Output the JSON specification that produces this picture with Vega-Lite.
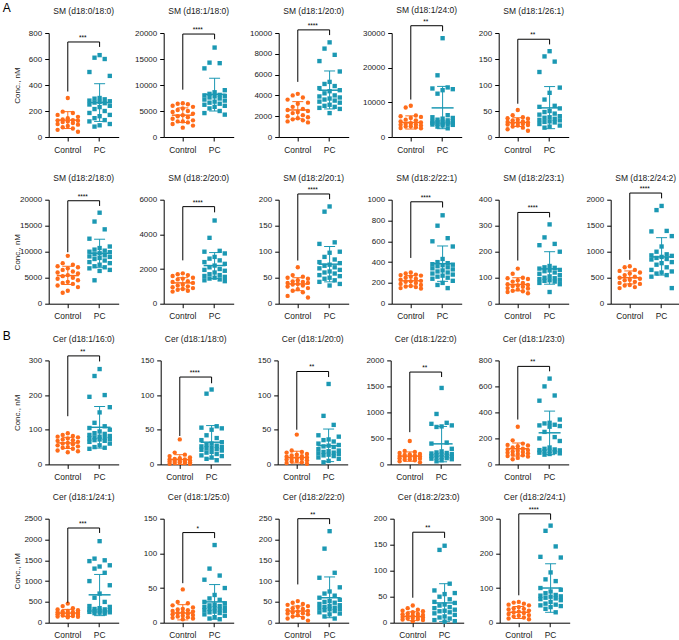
{
"$schema":"https://vega.github.io/schema/vega-lite/v6.json",
"background":"white",
"padding":{"left":1.7,"top":1,"right":0,"bottom":0},
"config":{
"font":"Liberation Sans",
"view":{"stroke":null},
"range":{"category":["#FF6C1A","#1B98B3"]},
"scale":{"bandPaddingInner":0.267,"bandPaddingOuter":0.3},
"axis":{"domainColor":"#000","tickColor":"#000","labelColor":"#1a1a1a","labelFontSize":8,"tickSize":4,"labelPadding":3,"grid":false,"titleFontSize":8,"titleFontWeight":"normal","titleColor":"#1a1a1a","titlePadding":1,"domainWidth":1,"tickWidth":1},
"axisX":{"labelAngle":0,"labelFontSize":8.4,"labelPadding":4},
"axisY":{"labelOverlap":false},
"title":{"fontSize":8.5,"fontWeight":"normal","color":"#1a1a1a","offset":0,"baseline":"bottom","frame":"group","anchor":"middle"},
"point":{"filled":true,"opacity":1,"size":19},
"tick":{"opacity":1,"thickness":1},
"rule":{"strokeWidth":1},
"style":{"bk":{"stroke":"#555","strokeWidth":0.8},"sr":{"dx":15,"dy":-1,"baseline":"bottom","fontSize":6.5,"fill":"#333"}}
},
"datasets":{
"st":[
{"p":1,"g":"Control","m":130,"lo":65,"hi":195},{"p":1,"g":"PC","m":265,"lo":120,"hi":410},
{"p":2,"g":"Control","m":4200,"lo":2800,"hi":5600},{"p":2,"g":"PC","m":8200,"lo":5000,"hi":11300},
{"p":3,"g":"Control","m":2600,"lo":1750,"hi":3400},{"p":3,"g":"PC","m":4500,"lo":2700,"hi":6350},
{"p":4,"g":"Control","m":4200,"lo":2300,"hi":6100},{"p":4,"g":"PC","m":8400,"lo":2400,"hi":14600},
{"p":5,"g":"Control","m":28,"lo":20,"hi":37},{"p":5,"g":"PC","m":56,"lo":16,"hi":97},
{"p":6,"g":"Control","m":5400,"lo":3700,"hi":7200},{"p":6,"g":"PC","m":9700,"lo":7000,"hi":12400},
{"p":7,"g":"Control","m":1200,"lo":850,"hi":1500},{"p":7,"g":"PC","m":2200,"lo":1450,"hi":2950},
{"p":8,"g":"Control","m":38,"lo":25,"hi":50},{"p":8,"g":"PC","m":76,"lo":42,"hi":110},
{"p":9,"g":"Control","m":220,"lo":170,"hi":270},{"p":9,"g":"PC","m":385,"lo":215,"hi":555},
{"p":10,"g":"Control","m":74,"lo":50,"hi":100},{"p":10,"g":"PC","m":134,"lo":75,"hi":200},
{"p":11,"g":"Control","m":500,"lo":380,"hi":630},{"p":11,"g":"PC","m":900,"lo":550,"hi":1270},
{"p":12,"g":"Control","m":62,"lo":46,"hi":78},{"p":12,"g":"PC","m":107,"lo":47,"hi":167},
{"p":13,"g":"Control","m":7,"lo":0,"hi":14},{"p":13,"g":"PC","m":32,"lo":8,"hi":56},
{"p":14,"g":"Control","m":10,"lo":2,"hi":19},{"p":14,"g":"PC","m":27,"lo":4,"hi":51},
{"p":15,"g":"Control","m":160,"lo":60,"hi":240},{"p":15,"g":"PC","m":395,"lo":50,"hi":730},
{"p":16,"g":"Control","m":120,"lo":65,"hi":165},{"p":16,"g":"PC","m":243,"lo":75,"hi":410},
{"p":17,"g":"Control","m":232,"lo":150,"hi":320},{"p":17,"g":"PC","m":670,"lo":170,"hi":1160},
{"p":18,"g":"Control","m":14,"lo":4,"hi":26},{"p":18,"g":"PC","m":30,"lo":5,"hi":55},
{"p":19,"g":"Control","m":28,"lo":15,"hi":40},{"p":19,"g":"PC","m":60,"lo":12,"hi":110},
{"p":20,"g":"Control","m":12,"lo":4,"hi":21},{"p":20,"g":"PC","m":38,"lo":2,"hi":75},
{"p":21,"g":"Control","m":30,"lo":12,"hi":47},{"p":21,"g":"PC","m":100,"lo":30,"hi":170}
],
"br":[
{"p":1,"t":731,"l":350,"r":693,"s":"***","d":800},
{"p":2,"t":19800,"l":9100,"r":18800,"s":"****","d":20000},
{"p":3,"t":10300,"l":5300,"r":9800,"s":"****","d":10000},
{"p":4,"t":32100,"l":10800,"r":30500,"s":"**","d":30000},
{"p":5,"t":188,"l":64,"r":178,"s":"**","d":200},
{"p":6,"t":19800,"l":9900,"r":18800,"s":"****","d":20000},
{"p":7,"t":5600,"l":2500,"r":5270,"s":"****","d":6000},
{"p":8,"t":211,"l":83,"r":201,"s":"****","d":200},
{"p":9,"t":980,"l":440,"r":925,"s":"****","d":1000},
{"p":10,"t":351,"l":166,"r":332,"s":"****","d":400},
{"p":11,"t":2128,"l":843,"r":2026,"s":"****","d":2000},
{"p":12,"t":313,"l":139,"r":297,"s":"**","d":300},
{"p":13,"t":126,"l":41,"r":117,"s":"****","d":150},
{"p":14,"t":134,"l":50,"r":126,"s":"**","d":150},
{"p":15,"t":1776,"l":620,"r":1680,"s":"**","d":2000},
{"p":16,"t":754,"l":345,"r":716,"s":"**","d":800},
{"p":17,"t":2276,"l":479,"r":2157,"s":"***","d":2500},
{"p":18,"t":130,"l":57,"r":122,"s":"*","d":150},
{"p":19,"t":250,"l":92,"r":237,"s":"**","d":250},
{"p":20,"t":174,"l":48,"r":163,"s":"**","d":200},
{"p":21,"t":314,"l":79,"r":297,"s":"****","d":300}
],
"pts":[
{"p":1,"g":"Control","v":300},{"p":1,"g":"Control","v":195},{"p":1,"g":"Control","v":185},{"p":1,"g":"Control","v":170},{"p":1,"g":"Control","v":155},{"p":1,"g":"Control","v":145},{"p":1,"g":"Control","v":135},{"p":1,"g":"Control","v":130},{"p":1,"g":"Control","v":128},{"p":1,"g":"Control","v":125},{"p":1,"g":"Control","v":120},{"p":1,"g":"Control","v":115},{"p":1,"g":"Control","v":108},{"p":1,"g":"Control","v":100},{"p":1,"g":"Control","v":95},{"p":1,"g":"Control","v":85},{"p":1,"g":"Control","v":75},{"p":1,"g":"Control","v":65},{"p":1,"g":"Control","v":55},{"p":1,"g":"Control","v":40},
{"p":1,"g":"PC","v":630},{"p":1,"g":"PC","v":610},{"p":1,"g":"PC","v":600},{"p":1,"g":"PC","v":500},{"p":1,"g":"PC","v":470},{"p":1,"g":"PC","v":300},{"p":1,"g":"PC","v":295},{"p":1,"g":"PC","v":290},{"p":1,"g":"PC","v":280},{"p":1,"g":"PC","v":275},{"p":1,"g":"PC","v":270},{"p":1,"g":"PC","v":265},{"p":1,"g":"PC","v":260},{"p":1,"g":"PC","v":250},{"p":1,"g":"PC","v":240},{"p":1,"g":"PC","v":230},{"p":1,"g":"PC","v":215},{"p":1,"g":"PC","v":200},{"p":1,"g":"PC","v":185},{"p":1,"g":"PC","v":170},{"p":1,"g":"PC","v":160},{"p":1,"g":"PC","v":145},{"p":1,"g":"PC","v":130},{"p":1,"g":"PC","v":120},{"p":1,"g":"PC","v":100},{"p":1,"g":"PC","v":90},{"p":1,"g":"PC","v":80},
{"p":2,"g":"Control","v":6500},{"p":2,"g":"Control","v":6400},{"p":2,"g":"Control","v":6300},{"p":2,"g":"Control","v":6000},{"p":2,"g":"Control","v":5800},{"p":2,"g":"Control","v":5500},{"p":2,"g":"Control","v":5200},{"p":2,"g":"Control","v":5000},{"p":2,"g":"Control","v":4800},{"p":2,"g":"Control","v":4500},{"p":2,"g":"Control","v":4200},{"p":2,"g":"Control","v":4000},{"p":2,"g":"Control","v":3800},{"p":2,"g":"Control","v":3500},{"p":2,"g":"Control","v":3200},{"p":2,"g":"Control","v":3000},{"p":2,"g":"Control","v":3000},{"p":2,"g":"Control","v":2800},{"p":2,"g":"Control","v":2500},{"p":2,"g":"Control","v":2200},{"p":2,"g":"Control","v":1800},
{"p":2,"g":"PC","v":17200},{"p":2,"g":"PC","v":14300},{"p":2,"g":"PC","v":14200},{"p":2,"g":"PC","v":13200},{"p":2,"g":"PC","v":9000},{"p":2,"g":"PC","v":8600},{"p":2,"g":"PC","v":8300},{"p":2,"g":"PC","v":8100},{"p":2,"g":"PC","v":8000},{"p":2,"g":"PC","v":7900},{"p":2,"g":"PC","v":7800},{"p":2,"g":"PC","v":7600},{"p":2,"g":"PC","v":7400},{"p":2,"g":"PC","v":7200},{"p":2,"g":"PC","v":7000},{"p":2,"g":"PC","v":6800},{"p":2,"g":"PC","v":6600},{"p":2,"g":"PC","v":6400},{"p":2,"g":"PC","v":6200},{"p":2,"g":"PC","v":6000},{"p":2,"g":"PC","v":5800},{"p":2,"g":"PC","v":5500},{"p":2,"g":"PC","v":5000},{"p":2,"g":"PC","v":4600},{"p":2,"g":"PC","v":4300},
{"p":3,"g":"Control","v":4150},{"p":3,"g":"Control","v":4000},{"p":3,"g":"Control","v":3800},{"p":3,"g":"Control","v":3600},{"p":3,"g":"Control","v":3300},{"p":3,"g":"Control","v":3200},{"p":3,"g":"Control","v":2900},{"p":3,"g":"Control","v":2700},{"p":3,"g":"Control","v":2600},{"p":3,"g":"Control","v":2500},{"p":3,"g":"Control","v":2400},{"p":3,"g":"Control","v":2300},{"p":3,"g":"Control","v":2100},{"p":3,"g":"Control","v":2000},{"p":3,"g":"Control","v":1900},{"p":3,"g":"Control","v":1800},{"p":3,"g":"Control","v":1700},{"p":3,"g":"Control","v":1600},{"p":3,"g":"Control","v":1500},{"p":3,"g":"Control","v":1400},
{"p":3,"g":"PC","v":9100},{"p":3,"g":"PC","v":8500},{"p":3,"g":"PC","v":7900},{"p":3,"g":"PC","v":7300},{"p":3,"g":"PC","v":6300},{"p":3,"g":"PC","v":5300},{"p":3,"g":"PC","v":5100},{"p":3,"g":"PC","v":4900},{"p":3,"g":"PC","v":4700},{"p":3,"g":"PC","v":4500},{"p":3,"g":"PC","v":4400},{"p":3,"g":"PC","v":4200},{"p":3,"g":"PC","v":4000},{"p":3,"g":"PC","v":3900},{"p":3,"g":"PC","v":3800},{"p":3,"g":"PC","v":3700},{"p":3,"g":"PC","v":3600},{"p":3,"g":"PC","v":3500},{"p":3,"g":"PC","v":3400},{"p":3,"g":"PC","v":3300},{"p":3,"g":"PC","v":3100},{"p":3,"g":"PC","v":3000},{"p":3,"g":"PC","v":2900},{"p":3,"g":"PC","v":2800},{"p":3,"g":"PC","v":2700},{"p":3,"g":"PC","v":2300},
{"p":4,"g":"Control","v":9000},{"p":4,"g":"Control","v":8500},{"p":4,"g":"Control","v":6200},{"p":4,"g":"Control","v":6000},{"p":4,"g":"Control","v":5800},{"p":4,"g":"Control","v":5500},{"p":4,"g":"Control","v":5000},{"p":4,"g":"Control","v":4800},{"p":4,"g":"Control","v":4500},{"p":4,"g":"Control","v":4200},{"p":4,"g":"Control","v":4000},{"p":4,"g":"Control","v":3800},{"p":4,"g":"Control","v":3600},{"p":4,"g":"Control","v":3500},{"p":4,"g":"Control","v":3300},{"p":4,"g":"Control","v":3100},{"p":4,"g":"Control","v":3000},{"p":4,"g":"Control","v":2800},{"p":4,"g":"Control","v":2600},{"p":4,"g":"Control","v":2500},
{"p":4,"g":"PC","v":28500},{"p":4,"g":"PC","v":17800},{"p":4,"g":"PC","v":14300},{"p":4,"g":"PC","v":14000},{"p":4,"g":"PC","v":13800},{"p":4,"g":"PC","v":13500},{"p":4,"g":"PC","v":12500},{"p":4,"g":"PC","v":6300},{"p":4,"g":"PC","v":5700},{"p":4,"g":"PC","v":5500},{"p":4,"g":"PC","v":5300},{"p":4,"g":"PC","v":5000},{"p":4,"g":"PC","v":4800},{"p":4,"g":"PC","v":4600},{"p":4,"g":"PC","v":4500},{"p":4,"g":"PC","v":4400},{"p":4,"g":"PC","v":4300},{"p":4,"g":"PC","v":4200},{"p":4,"g":"PC","v":4100},{"p":4,"g":"PC","v":4000},{"p":4,"g":"PC","v":3900},{"p":4,"g":"PC","v":3800},{"p":4,"g":"PC","v":3700},{"p":4,"g":"PC","v":3600},{"p":4,"g":"PC","v":3500},{"p":4,"g":"PC","v":3300},{"p":4,"g":"PC","v":3000},{"p":4,"g":"PC","v":2500},
{"p":5,"g":"Control","v":52},{"p":5,"g":"Control","v":42},{"p":5,"g":"Control","v":38},{"p":5,"g":"Control","v":36},{"p":5,"g":"Control","v":35},{"p":5,"g":"Control","v":33},{"p":5,"g":"Control","v":32},{"p":5,"g":"Control","v":30},{"p":5,"g":"Control","v":29},{"p":5,"g":"Control","v":28},{"p":5,"g":"Control","v":27},{"p":5,"g":"Control","v":26},{"p":5,"g":"Control","v":25},{"p":5,"g":"Control","v":24},{"p":5,"g":"Control","v":23},{"p":5,"g":"Control","v":22},{"p":5,"g":"Control","v":20},{"p":5,"g":"Control","v":18},{"p":5,"g":"Control","v":15},{"p":5,"g":"Control","v":12},
{"p":5,"g":"PC","v":165},{"p":5,"g":"PC","v":155},{"p":5,"g":"PC","v":145},{"p":5,"g":"PC","v":125},{"p":5,"g":"PC","v":95},{"p":5,"g":"PC","v":85},{"p":5,"g":"PC","v":72},{"p":5,"g":"PC","v":60},{"p":5,"g":"PC","v":58},{"p":5,"g":"PC","v":55},{"p":5,"g":"PC","v":50},{"p":5,"g":"PC","v":48},{"p":5,"g":"PC","v":45},{"p":5,"g":"PC","v":43},{"p":5,"g":"PC","v":40},{"p":5,"g":"PC","v":38},{"p":5,"g":"PC","v":37},{"p":5,"g":"PC","v":35},{"p":5,"g":"PC","v":33},{"p":5,"g":"PC","v":32},{"p":5,"g":"PC","v":30},{"p":5,"g":"PC","v":29},{"p":5,"g":"PC","v":28},{"p":5,"g":"PC","v":25},{"p":5,"g":"PC","v":22},{"p":5,"g":"PC","v":20},{"p":5,"g":"PC","v":18},
{"p":6,"g":"Control","v":9200},{"p":6,"g":"Control","v":7800},{"p":6,"g":"Control","v":7500},{"p":6,"g":"Control","v":7200},{"p":6,"g":"Control","v":7000},{"p":6,"g":"Control","v":6800},{"p":6,"g":"Control","v":6500},{"p":6,"g":"Control","v":6200},{"p":6,"g":"Control","v":6000},{"p":6,"g":"Control","v":5800},{"p":6,"g":"Control","v":5500},{"p":6,"g":"Control","v":5300},{"p":6,"g":"Control","v":5000},{"p":6,"g":"Control","v":4800},{"p":6,"g":"Control","v":4500},{"p":6,"g":"Control","v":4200},{"p":6,"g":"Control","v":4000},{"p":6,"g":"Control","v":3800},{"p":6,"g":"Control","v":3500},{"p":6,"g":"Control","v":3200},{"p":6,"g":"Control","v":2500},{"p":6,"g":"Control","v":2100},
{"p":6,"g":"PC","v":17500},{"p":6,"g":"PC","v":15800},{"p":6,"g":"PC","v":14300},{"p":6,"g":"PC","v":12500},{"p":6,"g":"PC","v":11000},{"p":6,"g":"PC","v":10700},{"p":6,"g":"PC","v":10400},{"p":6,"g":"PC","v":10200},{"p":6,"g":"PC","v":10000},{"p":6,"g":"PC","v":9900},{"p":6,"g":"PC","v":9700},{"p":6,"g":"PC","v":9500},{"p":6,"g":"PC","v":9300},{"p":6,"g":"PC","v":9100},{"p":6,"g":"PC","v":9000},{"p":6,"g":"PC","v":8800},{"p":6,"g":"PC","v":8600},{"p":6,"g":"PC","v":8300},{"p":6,"g":"PC","v":8000},{"p":6,"g":"PC","v":7800},{"p":6,"g":"PC","v":7500},{"p":6,"g":"PC","v":7200},{"p":6,"g":"PC","v":7000},{"p":6,"g":"PC","v":6800},{"p":6,"g":"PC","v":6500},{"p":6,"g":"PC","v":6300},{"p":6,"g":"PC","v":4500},
{"p":7,"g":"Control","v":1750},{"p":7,"g":"Control","v":1700},{"p":7,"g":"Control","v":1650},{"p":7,"g":"Control","v":1600},{"p":7,"g":"Control","v":1500},{"p":7,"g":"Control","v":1450},{"p":7,"g":"Control","v":1400},{"p":7,"g":"Control","v":1300},{"p":7,"g":"Control","v":1250},{"p":7,"g":"Control","v":1200},{"p":7,"g":"Control","v":1100},{"p":7,"g":"Control","v":1050},{"p":7,"g":"Control","v":1000},{"p":7,"g":"Control","v":950},{"p":7,"g":"Control","v":900},{"p":7,"g":"Control","v":850},{"p":7,"g":"Control","v":800},{"p":7,"g":"Control","v":750},{"p":7,"g":"Control","v":700},
{"p":7,"g":"PC","v":4800},{"p":7,"g":"PC","v":3800},{"p":7,"g":"PC","v":3050},{"p":7,"g":"PC","v":3000},{"p":7,"g":"PC","v":2900},{"p":7,"g":"PC","v":2700},{"p":7,"g":"PC","v":2600},{"p":7,"g":"PC","v":2500},{"p":7,"g":"PC","v":2400},{"p":7,"g":"PC","v":2300},{"p":7,"g":"PC","v":2200},{"p":7,"g":"PC","v":2100},{"p":7,"g":"PC","v":2000},{"p":7,"g":"PC","v":1950},{"p":7,"g":"PC","v":1900},{"p":7,"g":"PC","v":1800},{"p":7,"g":"PC","v":1700},{"p":7,"g":"PC","v":1650},{"p":7,"g":"PC","v":1600},{"p":7,"g":"PC","v":1550},{"p":7,"g":"PC","v":1500},{"p":7,"g":"PC","v":1450},{"p":7,"g":"PC","v":1400},{"p":7,"g":"PC","v":1350},{"p":7,"g":"PC","v":1300},
{"p":8,"g":"Control","v":70},{"p":8,"g":"Control","v":55},{"p":8,"g":"Control","v":52},{"p":8,"g":"Control","v":50},{"p":8,"g":"Control","v":48},{"p":8,"g":"Control","v":45},{"p":8,"g":"Control","v":43},{"p":8,"g":"Control","v":42},{"p":8,"g":"Control","v":40},{"p":8,"g":"Control","v":40},{"p":8,"g":"Control","v":38},{"p":8,"g":"Control","v":37},{"p":8,"g":"Control","v":35},{"p":8,"g":"Control","v":33},{"p":8,"g":"Control","v":30},{"p":8,"g":"Control","v":28},{"p":8,"g":"Control","v":25},{"p":8,"g":"Control","v":22},{"p":8,"g":"Control","v":15},{"p":8,"g":"Control","v":12},
{"p":8,"g":"PC","v":187},{"p":8,"g":"PC","v":177},{"p":8,"g":"PC","v":118},{"p":8,"g":"PC","v":115},{"p":8,"g":"PC","v":100},{"p":8,"g":"PC","v":98},{"p":8,"g":"PC","v":90},{"p":8,"g":"PC","v":85},{"p":8,"g":"PC","v":80},{"p":8,"g":"PC","v":78},{"p":8,"g":"PC","v":75},{"p":8,"g":"PC","v":73},{"p":8,"g":"PC","v":70},{"p":8,"g":"PC","v":68},{"p":8,"g":"PC","v":65},{"p":8,"g":"PC","v":62},{"p":8,"g":"PC","v":60},{"p":8,"g":"PC","v":58},{"p":8,"g":"PC","v":55},{"p":8,"g":"PC","v":53},{"p":8,"g":"PC","v":50},{"p":8,"g":"PC","v":48},{"p":8,"g":"PC","v":45},{"p":8,"g":"PC","v":42},{"p":8,"g":"PC","v":38},{"p":8,"g":"PC","v":35},
{"p":9,"g":"Control","v":300},{"p":9,"g":"Control","v":290},{"p":9,"g":"Control","v":280},{"p":9,"g":"Control","v":275},{"p":9,"g":"Control","v":270},{"p":9,"g":"Control","v":260},{"p":9,"g":"Control","v":250},{"p":9,"g":"Control","v":240},{"p":9,"g":"Control","v":230},{"p":9,"g":"Control","v":220},{"p":9,"g":"Control","v":215},{"p":9,"g":"Control","v":210},{"p":9,"g":"Control","v":200},{"p":9,"g":"Control","v":190},{"p":9,"g":"Control","v":180},{"p":9,"g":"Control","v":170},{"p":9,"g":"Control","v":165},{"p":9,"g":"Control","v":160},{"p":9,"g":"Control","v":150},{"p":9,"g":"Control","v":145},
{"p":9,"g":"PC","v":850},{"p":9,"g":"PC","v":750},{"p":9,"g":"PC","v":630},{"p":9,"g":"PC","v":600},{"p":9,"g":"PC","v":550},{"p":9,"g":"PC","v":430},{"p":9,"g":"PC","v":400},{"p":9,"g":"PC","v":390},{"p":9,"g":"PC","v":380},{"p":9,"g":"PC","v":375},{"p":9,"g":"PC","v":370},{"p":9,"g":"PC","v":360},{"p":9,"g":"PC","v":350},{"p":9,"g":"PC","v":340},{"p":9,"g":"PC","v":330},{"p":9,"g":"PC","v":320},{"p":9,"g":"PC","v":310},{"p":9,"g":"PC","v":300},{"p":9,"g":"PC","v":290},{"p":9,"g":"PC","v":280},{"p":9,"g":"PC","v":270},{"p":9,"g":"PC","v":260},{"p":9,"g":"PC","v":250},{"p":9,"g":"PC","v":240},{"p":9,"g":"PC","v":220},{"p":9,"g":"PC","v":200},{"p":9,"g":"PC","v":180},{"p":9,"g":"PC","v":150},
{"p":10,"g":"Control","v":135},{"p":10,"g":"Control","v":115},{"p":10,"g":"Control","v":100},{"p":10,"g":"Control","v":98},{"p":10,"g":"Control","v":95},{"p":10,"g":"Control","v":90},{"p":10,"g":"Control","v":85},{"p":10,"g":"Control","v":80},{"p":10,"g":"Control","v":75},{"p":10,"g":"Control","v":72},{"p":10,"g":"Control","v":70},{"p":10,"g":"Control","v":68},{"p":10,"g":"Control","v":65},{"p":10,"g":"Control","v":60},{"p":10,"g":"Control","v":58},{"p":10,"g":"Control","v":55},{"p":10,"g":"Control","v":50},{"p":10,"g":"Control","v":48},{"p":10,"g":"Control","v":45},{"p":10,"g":"Control","v":40},
{"p":10,"g":"PC","v":305},{"p":10,"g":"PC","v":255},{"p":10,"g":"PC","v":230},{"p":10,"g":"PC","v":225},{"p":10,"g":"PC","v":200},{"p":10,"g":"PC","v":145},{"p":10,"g":"PC","v":140},{"p":10,"g":"PC","v":138},{"p":10,"g":"PC","v":135},{"p":10,"g":"PC","v":130},{"p":10,"g":"PC","v":128},{"p":10,"g":"PC","v":125},{"p":10,"g":"PC","v":120},{"p":10,"g":"PC","v":115},{"p":10,"g":"PC","v":110},{"p":10,"g":"PC","v":105},{"p":10,"g":"PC","v":100},{"p":10,"g":"PC","v":98},{"p":10,"g":"PC","v":95},{"p":10,"g":"PC","v":92},{"p":10,"g":"PC","v":90},{"p":10,"g":"PC","v":88},{"p":10,"g":"PC","v":85},{"p":10,"g":"PC","v":80},{"p":10,"g":"PC","v":75},{"p":10,"g":"PC","v":45},
{"p":11,"g":"Control","v":720},{"p":11,"g":"Control","v":700},{"p":11,"g":"Control","v":650},{"p":11,"g":"Control","v":630},{"p":11,"g":"Control","v":600},{"p":11,"g":"Control","v":580},{"p":11,"g":"Control","v":550},{"p":11,"g":"Control","v":520},{"p":11,"g":"Control","v":500},{"p":11,"g":"Control","v":480},{"p":11,"g":"Control","v":460},{"p":11,"g":"Control","v":450},{"p":11,"g":"Control","v":420},{"p":11,"g":"Control","v":400},{"p":11,"g":"Control","v":380},{"p":11,"g":"Control","v":360},{"p":11,"g":"Control","v":350},{"p":11,"g":"Control","v":320},{"p":11,"g":"Control","v":300},
{"p":11,"g":"PC","v":1880},{"p":11,"g":"PC","v":1800},{"p":11,"g":"PC","v":1400},{"p":11,"g":"PC","v":1390},{"p":11,"g":"PC","v":1300},{"p":11,"g":"PC","v":1100},{"p":11,"g":"PC","v":1000},{"p":11,"g":"PC","v":950},{"p":11,"g":"PC","v":930},{"p":11,"g":"PC","v":920},{"p":11,"g":"PC","v":900},{"p":11,"g":"PC","v":880},{"p":11,"g":"PC","v":860},{"p":11,"g":"PC","v":850},{"p":11,"g":"PC","v":800},{"p":11,"g":"PC","v":780},{"p":11,"g":"PC","v":750},{"p":11,"g":"PC","v":700},{"p":11,"g":"PC","v":650},{"p":11,"g":"PC","v":620},{"p":11,"g":"PC","v":600},{"p":11,"g":"PC","v":580},{"p":11,"g":"PC","v":550},{"p":11,"g":"PC","v":520},{"p":11,"g":"PC","v":300},
{"p":12,"g":"Control","v":90},{"p":12,"g":"Control","v":85},{"p":12,"g":"Control","v":82},{"p":12,"g":"Control","v":80},{"p":12,"g":"Control","v":78},{"p":12,"g":"Control","v":75},{"p":12,"g":"Control","v":72},{"p":12,"g":"Control","v":70},{"p":12,"g":"Control","v":68},{"p":12,"g":"Control","v":65},{"p":12,"g":"Control","v":62},{"p":12,"g":"Control","v":60},{"p":12,"g":"Control","v":58},{"p":12,"g":"Control","v":55},{"p":12,"g":"Control","v":52},{"p":12,"g":"Control","v":50},{"p":12,"g":"Control","v":48},{"p":12,"g":"Control","v":45},{"p":12,"g":"Control","v":40},{"p":12,"g":"Control","v":38},{"p":12,"g":"Control","v":35},
{"p":12,"g":"PC","v":275},{"p":12,"g":"PC","v":255},{"p":12,"g":"PC","v":200},{"p":12,"g":"PC","v":195},{"p":12,"g":"PC","v":165},{"p":12,"g":"PC","v":150},{"p":12,"g":"PC","v":120},{"p":12,"g":"PC","v":110},{"p":12,"g":"PC","v":105},{"p":12,"g":"PC","v":100},{"p":12,"g":"PC","v":95},{"p":12,"g":"PC","v":90},{"p":12,"g":"PC","v":88},{"p":12,"g":"PC","v":85},{"p":12,"g":"PC","v":82},{"p":12,"g":"PC","v":80},{"p":12,"g":"PC","v":78},{"p":12,"g":"PC","v":76},{"p":12,"g":"PC","v":75},{"p":12,"g":"PC","v":73},{"p":12,"g":"PC","v":72},{"p":12,"g":"PC","v":70},{"p":12,"g":"PC","v":68},{"p":12,"g":"PC","v":65},{"p":12,"g":"PC","v":60},{"p":12,"g":"PC","v":55},{"p":12,"g":"PC","v":50},{"p":12,"g":"PC","v":48},{"p":12,"g":"PC","v":45},
{"p":13,"g":"Control","v":36},{"p":13,"g":"Control","v":17},{"p":13,"g":"Control","v":14},{"p":13,"g":"Control","v":12},{"p":13,"g":"Control","v":10},{"p":13,"g":"Control","v":9},{"p":13,"g":"Control","v":8},{"p":13,"g":"Control","v":7},{"p":13,"g":"Control","v":7},{"p":13,"g":"Control","v":6},{"p":13,"g":"Control","v":5},{"p":13,"g":"Control","v":5},{"p":13,"g":"Control","v":4},{"p":13,"g":"Control","v":4},{"p":13,"g":"Control","v":3},{"p":13,"g":"Control","v":3},{"p":13,"g":"Control","v":2},{"p":13,"g":"Control","v":2},{"p":13,"g":"Control","v":1},{"p":13,"g":"Control","v":1},
{"p":13,"g":"PC","v":108},{"p":13,"g":"PC","v":102},{"p":13,"g":"PC","v":55},{"p":13,"g":"PC","v":53},{"p":13,"g":"PC","v":52},{"p":13,"g":"PC","v":50},{"p":13,"g":"PC","v":42},{"p":13,"g":"PC","v":38},{"p":13,"g":"PC","v":35},{"p":13,"g":"PC","v":32},{"p":13,"g":"PC","v":30},{"p":13,"g":"PC","v":28},{"p":13,"g":"PC","v":27},{"p":13,"g":"PC","v":26},{"p":13,"g":"PC","v":25},{"p":13,"g":"PC","v":24},{"p":13,"g":"PC","v":23},{"p":13,"g":"PC","v":22},{"p":13,"g":"PC","v":21},{"p":13,"g":"PC","v":20},{"p":13,"g":"PC","v":18},{"p":13,"g":"PC","v":17},{"p":13,"g":"PC","v":15},{"p":13,"g":"PC","v":13},{"p":13,"g":"PC","v":12},{"p":13,"g":"PC","v":10},{"p":13,"g":"PC","v":8},{"p":13,"g":"PC","v":6},
{"p":14,"g":"Control","v":43},{"p":14,"g":"Control","v":20},{"p":14,"g":"Control","v":18},{"p":14,"g":"Control","v":17},{"p":14,"g":"Control","v":15},{"p":14,"g":"Control","v":14},{"p":14,"g":"Control","v":13},{"p":14,"g":"Control","v":12},{"p":14,"g":"Control","v":11},{"p":14,"g":"Control","v":10},{"p":14,"g":"Control","v":9},{"p":14,"g":"Control","v":8},{"p":14,"g":"Control","v":8},{"p":14,"g":"Control","v":7},{"p":14,"g":"Control","v":6},{"p":14,"g":"Control","v":5},{"p":14,"g":"Control","v":4},{"p":14,"g":"Control","v":3},{"p":14,"g":"Control","v":2},{"p":14,"g":"Control","v":1},
{"p":14,"g":"PC","v":116},{"p":14,"g":"PC","v":70},{"p":14,"g":"PC","v":57},{"p":14,"g":"PC","v":42},{"p":14,"g":"PC","v":40},{"p":14,"g":"PC","v":36},{"p":14,"g":"PC","v":35},{"p":14,"g":"PC","v":33},{"p":14,"g":"PC","v":30},{"p":14,"g":"PC","v":28},{"p":14,"g":"PC","v":27},{"p":14,"g":"PC","v":26},{"p":14,"g":"PC","v":25},{"p":14,"g":"PC","v":22},{"p":14,"g":"PC","v":20},{"p":14,"g":"PC","v":19},{"p":14,"g":"PC","v":18},{"p":14,"g":"PC","v":17},{"p":14,"g":"PC","v":16},{"p":14,"g":"PC","v":15},{"p":14,"g":"PC","v":14},{"p":14,"g":"PC","v":13},{"p":14,"g":"PC","v":12},{"p":14,"g":"PC","v":10},{"p":14,"g":"PC","v":8},{"p":14,"g":"PC","v":5},{"p":14,"g":"PC","v":3},
{"p":15,"g":"Control","v":450},{"p":15,"g":"Control","v":260},{"p":15,"g":"Control","v":240},{"p":15,"g":"Control","v":220},{"p":15,"g":"Control","v":200},{"p":15,"g":"Control","v":190},{"p":15,"g":"Control","v":180},{"p":15,"g":"Control","v":170},{"p":15,"g":"Control","v":160},{"p":15,"g":"Control","v":150},{"p":15,"g":"Control","v":145},{"p":15,"g":"Control","v":140},{"p":15,"g":"Control","v":130},{"p":15,"g":"Control","v":120},{"p":15,"g":"Control","v":110},{"p":15,"g":"Control","v":100},{"p":15,"g":"Control","v":90},{"p":15,"g":"Control","v":80},{"p":15,"g":"Control","v":60},{"p":15,"g":"Control","v":40},
{"p":15,"g":"PC","v":1470},{"p":15,"g":"PC","v":970},{"p":15,"g":"PC","v":800},{"p":15,"g":"PC","v":780},{"p":15,"g":"PC","v":750},{"p":15,"g":"PC","v":730},{"p":15,"g":"PC","v":720},{"p":15,"g":"PC","v":420},{"p":15,"g":"PC","v":400},{"p":15,"g":"PC","v":300},{"p":15,"g":"PC","v":250},{"p":15,"g":"PC","v":230},{"p":15,"g":"PC","v":220},{"p":15,"g":"PC","v":210},{"p":15,"g":"PC","v":200},{"p":15,"g":"PC","v":190},{"p":15,"g":"PC","v":180},{"p":15,"g":"PC","v":170},{"p":15,"g":"PC","v":160},{"p":15,"g":"PC","v":150},{"p":15,"g":"PC","v":140},{"p":15,"g":"PC","v":130},{"p":15,"g":"PC","v":120},{"p":15,"g":"PC","v":110},{"p":15,"g":"PC","v":100},{"p":15,"g":"PC","v":80},{"p":15,"g":"PC","v":60},
{"p":16,"g":"Control","v":290},{"p":16,"g":"Control","v":185},{"p":16,"g":"Control","v":160},{"p":16,"g":"Control","v":150},{"p":16,"g":"Control","v":145},{"p":16,"g":"Control","v":140},{"p":16,"g":"Control","v":130},{"p":16,"g":"Control","v":120},{"p":16,"g":"Control","v":115},{"p":16,"g":"Control","v":110},{"p":16,"g":"Control","v":105},{"p":16,"g":"Control","v":100},{"p":16,"g":"Control","v":95},{"p":16,"g":"Control","v":90},{"p":16,"g":"Control","v":85},{"p":16,"g":"Control","v":80},{"p":16,"g":"Control","v":75},{"p":16,"g":"Control","v":70},{"p":16,"g":"Control","v":65},{"p":16,"g":"Control","v":60},{"p":16,"g":"Control","v":50},{"p":16,"g":"Control","v":40},
{"p":16,"g":"PC","v":660},{"p":16,"g":"PC","v":600},{"p":16,"g":"PC","v":530},{"p":16,"g":"PC","v":490},{"p":16,"g":"PC","v":345},{"p":16,"g":"PC","v":320},{"p":16,"g":"PC","v":315},{"p":16,"g":"PC","v":305},{"p":16,"g":"PC","v":300},{"p":16,"g":"PC","v":295},{"p":16,"g":"PC","v":290},{"p":16,"g":"PC","v":250},{"p":16,"g":"PC","v":210},{"p":16,"g":"PC","v":200},{"p":16,"g":"PC","v":180},{"p":16,"g":"PC","v":130},{"p":16,"g":"PC","v":120},{"p":16,"g":"PC","v":115},{"p":16,"g":"PC","v":110},{"p":16,"g":"PC","v":108},{"p":16,"g":"PC","v":105},{"p":16,"g":"PC","v":100},{"p":16,"g":"PC","v":95},{"p":16,"g":"PC","v":90},{"p":16,"g":"PC","v":85},{"p":16,"g":"PC","v":80},{"p":16,"g":"PC","v":75},
{"p":17,"g":"Control","v":460},{"p":17,"g":"Control","v":400},{"p":17,"g":"Control","v":350},{"p":17,"g":"Control","v":320},{"p":17,"g":"Control","v":300},{"p":17,"g":"Control","v":280},{"p":17,"g":"Control","v":270},{"p":17,"g":"Control","v":260},{"p":17,"g":"Control","v":250},{"p":17,"g":"Control","v":240},{"p":17,"g":"Control","v":230},{"p":17,"g":"Control","v":220},{"p":17,"g":"Control","v":210},{"p":17,"g":"Control","v":200},{"p":17,"g":"Control","v":190},{"p":17,"g":"Control","v":180},{"p":17,"g":"Control","v":170},{"p":17,"g":"Control","v":160},{"p":17,"g":"Control","v":150},{"p":17,"g":"Control","v":140},{"p":17,"g":"Control","v":130},
{"p":17,"g":"PC","v":1960},{"p":17,"g":"PC","v":1540},{"p":17,"g":"PC","v":1500},{"p":17,"g":"PC","v":1480},{"p":17,"g":"PC","v":1380},{"p":17,"g":"PC","v":1350},{"p":17,"g":"PC","v":1300},{"p":17,"g":"PC","v":1200},{"p":17,"g":"PC","v":1000},{"p":17,"g":"PC","v":900},{"p":17,"g":"PC","v":700},{"p":17,"g":"PC","v":600},{"p":17,"g":"PC","v":500},{"p":17,"g":"PC","v":400},{"p":17,"g":"PC","v":380},{"p":17,"g":"PC","v":350},{"p":17,"g":"PC","v":330},{"p":17,"g":"PC","v":320},{"p":17,"g":"PC","v":310},{"p":17,"g":"PC","v":300},{"p":17,"g":"PC","v":290},{"p":17,"g":"PC","v":280},{"p":17,"g":"PC","v":270},{"p":17,"g":"PC","v":260},{"p":17,"g":"PC","v":250},{"p":17,"g":"PC","v":240},{"p":17,"g":"PC","v":230},{"p":17,"g":"PC","v":220},
{"p":18,"g":"Control","v":48},{"p":18,"g":"Control","v":30},{"p":18,"g":"Control","v":28},{"p":18,"g":"Control","v":25},{"p":18,"g":"Control","v":22},{"p":18,"g":"Control","v":20},{"p":18,"g":"Control","v":19},{"p":18,"g":"Control","v":18},{"p":18,"g":"Control","v":17},{"p":18,"g":"Control","v":16},{"p":18,"g":"Control","v":15},{"p":18,"g":"Control","v":14},{"p":18,"g":"Control","v":13},{"p":18,"g":"Control","v":12},{"p":18,"g":"Control","v":11},{"p":18,"g":"Control","v":10},{"p":18,"g":"Control","v":9},{"p":18,"g":"Control","v":8},{"p":18,"g":"Control","v":7},{"p":18,"g":"Control","v":6},{"p":18,"g":"Control","v":5},
{"p":18,"g":"PC","v":112},{"p":18,"g":"PC","v":78},{"p":18,"g":"PC","v":68},{"p":18,"g":"PC","v":62},{"p":18,"g":"PC","v":50},{"p":18,"g":"PC","v":40},{"p":18,"g":"PC","v":35},{"p":18,"g":"PC","v":33},{"p":18,"g":"PC","v":30},{"p":18,"g":"PC","v":28},{"p":18,"g":"PC","v":26},{"p":18,"g":"PC","v":25},{"p":18,"g":"PC","v":24},{"p":18,"g":"PC","v":23},{"p":18,"g":"PC","v":22},{"p":18,"g":"PC","v":21},{"p":18,"g":"PC","v":20},{"p":18,"g":"PC","v":19},{"p":18,"g":"PC","v":18},{"p":18,"g":"PC","v":17},{"p":18,"g":"PC","v":16},{"p":18,"g":"PC","v":15},{"p":18,"g":"PC","v":14},{"p":18,"g":"PC","v":12},{"p":18,"g":"PC","v":10},{"p":18,"g":"PC","v":8},{"p":18,"g":"PC","v":6},{"p":18,"g":"PC","v":5},
{"p":19,"g":"Control","v":52},{"p":19,"g":"Control","v":48},{"p":19,"g":"Control","v":45},{"p":19,"g":"Control","v":43},{"p":19,"g":"Control","v":40},{"p":19,"g":"Control","v":38},{"p":19,"g":"Control","v":35},{"p":19,"g":"Control","v":33},{"p":19,"g":"Control","v":30},{"p":19,"g":"Control","v":28},{"p":19,"g":"Control","v":27},{"p":19,"g":"Control","v":25},{"p":19,"g":"Control","v":23},{"p":19,"g":"Control","v":22},{"p":19,"g":"Control","v":20},{"p":19,"g":"Control","v":18},{"p":19,"g":"Control","v":15},{"p":19,"g":"Control","v":12},{"p":19,"g":"Control","v":10},{"p":19,"g":"Control","v":5},
{"p":19,"g":"PC","v":220},{"p":19,"g":"PC","v":178},{"p":19,"g":"PC","v":120},{"p":19,"g":"PC","v":108},{"p":19,"g":"PC","v":85},{"p":19,"g":"PC","v":75},{"p":19,"g":"PC","v":70},{"p":19,"g":"PC","v":65},{"p":19,"g":"PC","v":60},{"p":19,"g":"PC","v":55},{"p":19,"g":"PC","v":52},{"p":19,"g":"PC","v":50},{"p":19,"g":"PC","v":48},{"p":19,"g":"PC","v":45},{"p":19,"g":"PC","v":42},{"p":19,"g":"PC","v":40},{"p":19,"g":"PC","v":38},{"p":19,"g":"PC","v":36},{"p":19,"g":"PC","v":35},{"p":19,"g":"PC","v":33},{"p":19,"g":"PC","v":32},{"p":19,"g":"PC","v":30},{"p":19,"g":"PC","v":28},{"p":19,"g":"PC","v":25},{"p":19,"g":"PC","v":22},{"p":19,"g":"PC","v":20},{"p":19,"g":"PC","v":15},{"p":19,"g":"PC","v":10},
{"p":20,"g":"Control","v":33},{"p":20,"g":"Control","v":28},{"p":20,"g":"Control","v":25},{"p":20,"g":"Control","v":23},{"p":20,"g":"Control","v":22},{"p":20,"g":"Control","v":20},{"p":20,"g":"Control","v":18},{"p":20,"g":"Control","v":17},{"p":20,"g":"Control","v":16},{"p":20,"g":"Control","v":15},{"p":20,"g":"Control","v":14},{"p":20,"g":"Control","v":13},{"p":20,"g":"Control","v":12},{"p":20,"g":"Control","v":11},{"p":20,"g":"Control","v":10},{"p":20,"g":"Control","v":9},{"p":20,"g":"Control","v":8},{"p":20,"g":"Control","v":7},{"p":20,"g":"Control","v":6},{"p":20,"g":"Control","v":5},{"p":20,"g":"Control","v":3},
{"p":20,"g":"PC","v":148},{"p":20,"g":"PC","v":140},{"p":20,"g":"PC","v":75},{"p":20,"g":"PC","v":62},{"p":20,"g":"PC","v":57},{"p":20,"g":"PC","v":55},{"p":20,"g":"PC","v":50},{"p":20,"g":"PC","v":45},{"p":20,"g":"PC","v":40},{"p":20,"g":"PC","v":38},{"p":20,"g":"PC","v":35},{"p":20,"g":"PC","v":33},{"p":20,"g":"PC","v":30},{"p":20,"g":"PC","v":28},{"p":20,"g":"PC","v":25},{"p":20,"g":"PC","v":23},{"p":20,"g":"PC","v":22},{"p":20,"g":"PC","v":20},{"p":20,"g":"PC","v":18},{"p":20,"g":"PC","v":15},{"p":20,"g":"PC","v":12},{"p":20,"g":"PC","v":10},{"p":20,"g":"PC","v":8},{"p":20,"g":"PC","v":5},{"p":20,"g":"PC","v":3},{"p":20,"g":"PC","v":2},
{"p":21,"g":"Control","v":60},{"p":21,"g":"Control","v":58},{"p":21,"g":"Control","v":55},{"p":21,"g":"Control","v":52},{"p":21,"g":"Control","v":50},{"p":21,"g":"Control","v":45},{"p":21,"g":"Control","v":42},{"p":21,"g":"Control","v":40},{"p":21,"g":"Control","v":38},{"p":21,"g":"Control","v":35},{"p":21,"g":"Control","v":32},{"p":21,"g":"Control","v":30},{"p":21,"g":"Control","v":28},{"p":21,"g":"Control","v":25},{"p":21,"g":"Control","v":22},{"p":21,"g":"Control","v":20},{"p":21,"g":"Control","v":18},{"p":21,"g":"Control","v":15},{"p":21,"g":"Control","v":12},{"p":21,"g":"Control","v":10},
{"p":21,"g":"PC","v":280},{"p":21,"g":"PC","v":265},{"p":21,"g":"PC","v":220},{"p":21,"g":"PC","v":190},{"p":21,"g":"PC","v":188},{"p":21,"g":"PC","v":145},{"p":21,"g":"PC","v":125},{"p":21,"g":"PC","v":120},{"p":21,"g":"PC","v":100},{"p":21,"g":"PC","v":95},{"p":21,"g":"PC","v":90},{"p":21,"g":"PC","v":85},{"p":21,"g":"PC","v":80},{"p":21,"g":"PC","v":78},{"p":21,"g":"PC","v":76},{"p":21,"g":"PC","v":75},{"p":21,"g":"PC","v":72},{"p":21,"g":"PC","v":70},{"p":21,"g":"PC","v":68},{"p":21,"g":"PC","v":65},{"p":21,"g":"PC","v":60},{"p":21,"g":"PC","v":55},{"p":21,"g":"PC","v":52},{"p":21,"g":"PC","v":50},{"p":21,"g":"PC","v":48},{"p":21,"g":"PC","v":45},{"p":21,"g":"PC","v":40},{"p":21,"g":"PC","v":30}
]
},
"spacing":8.4,
"vconcat":[
{"title":{"text":"A","orient":"left","anchor":"end","frame":"bounds","angle":0,"align":"left","baseline":"top","offset":3,"dy":-3.3,"fontSize":12,"color":"#000"},
"spacing":18.7,
"vconcat":[
{"spacing":5,"hconcat":[
{"width":70,"height":104,"title":"SM (d18:0/18:0)","layer":[
{"data":{"name":"pts"},"transform":[{"filter":"datum.p==1"},{"window":[{"op":"row_number","as":"r"}],"groupby":["g"],"sort":[{"field":"v","order":"descending"}]},{"calculate":"datum.r%5","as":"k"}],"mark":"point","encoding":{"x":{"field":"g","type":"nominal","title":null},"xOffset":{"field":"k","type":"nominal","scale":{"domain":[4,2,1,3,0]}},"y":{"field":"v","type":"quantitative","title":"Conc., nM","scale":{"domain":[0,800],"nice":false},"axis":{"values":[0,200,400,600,800],"tickCount":10,"format":"d","labelOverlap":false,"titleX":-27,"minExtent":25,"maxExtent":25}},"color":{"field":"g","type":"nominal","legend":null},"shape":{"field":"g","type":"nominal","scale":{"range":["circle","square"]},"legend":null}}},
{"data":{"name":"st"},"transform":[{"filter":"datum.p==1"}],"encoding":{"x":{"field":"g","type":"nominal","title":null},"color":{"field":"g","type":"nominal","legend":null}},"layer":[
{"mark":"rule","encoding":{"y":{"field":"lo","type":"quantitative","title":"Conc., nM"},"y2":{"field":"hi"}}},
{"mark":{"type":"tick","size":22,"thickness":1.5},"encoding":{"y":{"field":"m","type":"quantitative","title":"Conc., nM"}}},
{"mark":{"type":"tick","size":11},"encoding":{"y":{"field":"lo","type":"quantitative","title":"Conc., nM"}}},
{"mark":{"type":"tick","size":11},"encoding":{"y":{"field":"hi","type":"quantitative","title":"Conc., nM"}}}]},
{"data":{"name":"br"},"transform":[{"filter":"datum.p==1"}],"layer":[
{"mark":{"type":"rule","style":"bk"},"encoding":{"x":{"datum":"Control","type":"nominal","title":null},"x2":{"datum":"PC"},"y":{"field":"t","type":"quantitative","title":"Conc., nM"}}},
{"mark":{"type":"rule","style":"bk"},"encoding":{"x":{"datum":"Control","type":"nominal","title":null},"y":{"field":"l","type":"quantitative","title":"Conc., nM"},"y2":{"field":"t"}}},
{"mark":{"type":"rule","style":"bk"},"encoding":{"x":{"datum":"PC","type":"nominal","title":null},"y":{"field":"r","type":"quantitative","title":"Conc., nM"},"y2":{"field":"t"}}},
{"mark":{"type":"text","style":"sr"},"encoding":{"x":{"datum":"Control","type":"nominal","title":null},"y":{"field":"t","type":"quantitative","title":"Conc., nM"},"text":{"field":"s"}}},
{"mark":{"type":"rule","yOffset":-13.3,"strokeOpacity":0},"encoding":{"y":{"field":"d","type":"quantitative","title":"Conc., nM"}}}]}]},
{"width":70,"height":104,"title":"SM (d18:1/18:0)","layer":[
{"data":{"name":"pts"},"transform":[{"filter":"datum.p==2"},{"window":[{"op":"row_number","as":"r"}],"groupby":["g"],"sort":[{"field":"v","order":"descending"}]},{"calculate":"datum.r%5","as":"k"}],"mark":"point","encoding":{"x":{"field":"g","type":"nominal","title":null},"xOffset":{"field":"k","type":"nominal","scale":{"domain":[4,2,1,3,0]}},"y":{"field":"v","type":"quantitative","title":null,"scale":{"domain":[0,20000],"nice":false},"axis":{"values":[0,5000,10000,15000,20000],"tickCount":10,"format":"d","labelOverlap":false,"minExtent":40,"maxExtent":40}},"color":{"field":"g","type":"nominal","legend":null},"shape":{"field":"g","type":"nominal","scale":{"range":["circle","square"]},"legend":null}}},
{"data":{"name":"st"},"transform":[{"filter":"datum.p==2"}],"encoding":{"x":{"field":"g","type":"nominal","title":null},"color":{"field":"g","type":"nominal","legend":null}},"layer":[
{"mark":"rule","encoding":{"y":{"field":"lo","type":"quantitative","title":null},"y2":{"field":"hi"}}},
{"mark":{"type":"tick","size":22,"thickness":1.5},"encoding":{"y":{"field":"m","type":"quantitative","title":null}}},
{"mark":{"type":"tick","size":11},"encoding":{"y":{"field":"lo","type":"quantitative","title":null}}},
{"mark":{"type":"tick","size":11},"encoding":{"y":{"field":"hi","type":"quantitative","title":null}}}]},
{"data":{"name":"br"},"transform":[{"filter":"datum.p==2"}],"layer":[
{"mark":{"type":"rule","style":"bk"},"encoding":{"x":{"datum":"Control","type":"nominal","title":null},"x2":{"datum":"PC"},"y":{"field":"t","type":"quantitative","title":null}}},
{"mark":{"type":"rule","style":"bk"},"encoding":{"x":{"datum":"Control","type":"nominal","title":null},"y":{"field":"l","type":"quantitative","title":null},"y2":{"field":"t"}}},
{"mark":{"type":"rule","style":"bk"},"encoding":{"x":{"datum":"PC","type":"nominal","title":null},"y":{"field":"r","type":"quantitative","title":null},"y2":{"field":"t"}}},
{"mark":{"type":"text","style":"sr"},"encoding":{"x":{"datum":"Control","type":"nominal","title":null},"y":{"field":"t","type":"quantitative","title":null},"text":{"field":"s"}}},
{"mark":{"type":"rule","yOffset":-13.3,"strokeOpacity":0},"encoding":{"y":{"field":"d","type":"quantitative","title":null}}}]}]},
{"width":70,"height":104,"title":"SM (d18:1/20:0)","layer":[
{"data":{"name":"pts"},"transform":[{"filter":"datum.p==3"},{"window":[{"op":"row_number","as":"r"}],"groupby":["g"],"sort":[{"field":"v","order":"descending"}]},{"calculate":"datum.r%5","as":"k"}],"mark":"point","encoding":{"x":{"field":"g","type":"nominal","title":null},"xOffset":{"field":"k","type":"nominal","scale":{"domain":[4,2,1,3,0]}},"y":{"field":"v","type":"quantitative","title":null,"scale":{"domain":[0,10000],"nice":false},"axis":{"values":[0,2000,4000,6000,8000,10000],"tickCount":10,"format":"d","labelOverlap":false,"minExtent":40,"maxExtent":40}},"color":{"field":"g","type":"nominal","legend":null},"shape":{"field":"g","type":"nominal","scale":{"range":["circle","square"]},"legend":null}}},
{"data":{"name":"st"},"transform":[{"filter":"datum.p==3"}],"encoding":{"x":{"field":"g","type":"nominal","title":null},"color":{"field":"g","type":"nominal","legend":null}},"layer":[
{"mark":"rule","encoding":{"y":{"field":"lo","type":"quantitative","title":null},"y2":{"field":"hi"}}},
{"mark":{"type":"tick","size":22,"thickness":1.5},"encoding":{"y":{"field":"m","type":"quantitative","title":null}}},
{"mark":{"type":"tick","size":11},"encoding":{"y":{"field":"lo","type":"quantitative","title":null}}},
{"mark":{"type":"tick","size":11},"encoding":{"y":{"field":"hi","type":"quantitative","title":null}}}]},
{"data":{"name":"br"},"transform":[{"filter":"datum.p==3"}],"layer":[
{"mark":{"type":"rule","style":"bk"},"encoding":{"x":{"datum":"Control","type":"nominal","title":null},"x2":{"datum":"PC"},"y":{"field":"t","type":"quantitative","title":null}}},
{"mark":{"type":"rule","style":"bk"},"encoding":{"x":{"datum":"Control","type":"nominal","title":null},"y":{"field":"l","type":"quantitative","title":null},"y2":{"field":"t"}}},
{"mark":{"type":"rule","style":"bk"},"encoding":{"x":{"datum":"PC","type":"nominal","title":null},"y":{"field":"r","type":"quantitative","title":null},"y2":{"field":"t"}}},
{"mark":{"type":"text","style":"sr"},"encoding":{"x":{"datum":"Control","type":"nominal","title":null},"y":{"field":"t","type":"quantitative","title":null},"text":{"field":"s"}}},
{"mark":{"type":"rule","yOffset":-13.3,"strokeOpacity":0},"encoding":{"y":{"field":"d","type":"quantitative","title":null}}}]}]},
{"width":70,"height":104,"title":"SM (d18:1/24:0)","layer":[
{"data":{"name":"pts"},"transform":[{"filter":"datum.p==4"},{"window":[{"op":"row_number","as":"r"}],"groupby":["g"],"sort":[{"field":"v","order":"descending"}]},{"calculate":"datum.r%5","as":"k"}],"mark":"point","encoding":{"x":{"field":"g","type":"nominal","title":null},"xOffset":{"field":"k","type":"nominal","scale":{"domain":[4,2,1,3,0]}},"y":{"field":"v","type":"quantitative","title":null,"scale":{"domain":[0,30000],"nice":false},"axis":{"values":[0,10000,20000,30000],"tickCount":10,"format":"d","labelOverlap":false,"minExtent":38,"maxExtent":38}},"color":{"field":"g","type":"nominal","legend":null},"shape":{"field":"g","type":"nominal","scale":{"range":["circle","square"]},"legend":null}}},
{"data":{"name":"st"},"transform":[{"filter":"datum.p==4"}],"encoding":{"x":{"field":"g","type":"nominal","title":null},"color":{"field":"g","type":"nominal","legend":null}},"layer":[
{"mark":"rule","encoding":{"y":{"field":"lo","type":"quantitative","title":null},"y2":{"field":"hi"}}},
{"mark":{"type":"tick","size":22,"thickness":1.5},"encoding":{"y":{"field":"m","type":"quantitative","title":null}}},
{"mark":{"type":"tick","size":11},"encoding":{"y":{"field":"lo","type":"quantitative","title":null}}},
{"mark":{"type":"tick","size":11},"encoding":{"y":{"field":"hi","type":"quantitative","title":null}}}]},
{"data":{"name":"br"},"transform":[{"filter":"datum.p==4"}],"layer":[
{"mark":{"type":"rule","style":"bk"},"encoding":{"x":{"datum":"Control","type":"nominal","title":null},"x2":{"datum":"PC"},"y":{"field":"t","type":"quantitative","title":null}}},
{"mark":{"type":"rule","style":"bk"},"encoding":{"x":{"datum":"Control","type":"nominal","title":null},"y":{"field":"l","type":"quantitative","title":null},"y2":{"field":"t"}}},
{"mark":{"type":"rule","style":"bk"},"encoding":{"x":{"datum":"PC","type":"nominal","title":null},"y":{"field":"r","type":"quantitative","title":null},"y2":{"field":"t"}}},
{"mark":{"type":"text","style":"sr"},"encoding":{"x":{"datum":"Control","type":"nominal","title":null},"y":{"field":"t","type":"quantitative","title":null},"text":{"field":"s"}}},
{"mark":{"type":"rule","yOffset":-13.3,"strokeOpacity":0},"encoding":{"y":{"field":"d","type":"quantitative","title":null}}}]}]},
{"width":70,"height":104,"title":"SM (d18:1/26:1)","layer":[
{"data":{"name":"pts"},"transform":[{"filter":"datum.p==5"},{"window":[{"op":"row_number","as":"r"}],"groupby":["g"],"sort":[{"field":"v","order":"descending"}]},{"calculate":"datum.r%5","as":"k"}],"mark":"point","encoding":{"x":{"field":"g","type":"nominal","title":null},"xOffset":{"field":"k","type":"nominal","scale":{"domain":[4,2,1,3,0]}},"y":{"field":"v","type":"quantitative","title":null,"scale":{"domain":[0,200],"nice":false},"axis":{"values":[0,50,100,150,200],"tickCount":10,"format":"d","labelOverlap":false,"minExtent":32,"maxExtent":32}},"color":{"field":"g","type":"nominal","legend":null},"shape":{"field":"g","type":"nominal","scale":{"range":["circle","square"]},"legend":null}}},
{"data":{"name":"st"},"transform":[{"filter":"datum.p==5"}],"encoding":{"x":{"field":"g","type":"nominal","title":null},"color":{"field":"g","type":"nominal","legend":null}},"layer":[
{"mark":"rule","encoding":{"y":{"field":"lo","type":"quantitative","title":null},"y2":{"field":"hi"}}},
{"mark":{"type":"tick","size":22,"thickness":1.5},"encoding":{"y":{"field":"m","type":"quantitative","title":null}}},
{"mark":{"type":"tick","size":11},"encoding":{"y":{"field":"lo","type":"quantitative","title":null}}},
{"mark":{"type":"tick","size":11},"encoding":{"y":{"field":"hi","type":"quantitative","title":null}}}]},
{"data":{"name":"br"},"transform":[{"filter":"datum.p==5"}],"layer":[
{"mark":{"type":"rule","style":"bk"},"encoding":{"x":{"datum":"Control","type":"nominal","title":null},"x2":{"datum":"PC"},"y":{"field":"t","type":"quantitative","title":null}}},
{"mark":{"type":"rule","style":"bk"},"encoding":{"x":{"datum":"Control","type":"nominal","title":null},"y":{"field":"l","type":"quantitative","title":null},"y2":{"field":"t"}}},
{"mark":{"type":"rule","style":"bk"},"encoding":{"x":{"datum":"PC","type":"nominal","title":null},"y":{"field":"r","type":"quantitative","title":null},"y2":{"field":"t"}}},
{"mark":{"type":"text","style":"sr"},"encoding":{"x":{"datum":"Control","type":"nominal","title":null},"y":{"field":"t","type":"quantitative","title":null},"text":{"field":"s"}}},
{"mark":{"type":"rule","yOffset":-13.3,"strokeOpacity":0},"encoding":{"y":{"field":"d","type":"quantitative","title":null}}}]}]}
]},
{"spacing":5,"hconcat":[
{"width":70,"height":104,"title":"SM (d18:2/18:0)","layer":[
{"data":{"name":"pts"},"transform":[{"filter":"datum.p==6"},{"window":[{"op":"row_number","as":"r"}],"groupby":["g"],"sort":[{"field":"v","order":"descending"}]},{"calculate":"datum.r%5","as":"k"}],"mark":"point","encoding":{"x":{"field":"g","type":"nominal","title":null},"xOffset":{"field":"k","type":"nominal","scale":{"domain":[4,2,1,3,0]}},"y":{"field":"v","type":"quantitative","title":"Conc., nM","scale":{"domain":[0,20000],"nice":false},"axis":{"values":[0,5000,10000,15000,20000],"tickCount":10,"format":"d","labelOverlap":false,"titleX":-27,"minExtent":25,"maxExtent":25}},"color":{"field":"g","type":"nominal","legend":null},"shape":{"field":"g","type":"nominal","scale":{"range":["circle","square"]},"legend":null}}},
{"data":{"name":"st"},"transform":[{"filter":"datum.p==6"}],"encoding":{"x":{"field":"g","type":"nominal","title":null},"color":{"field":"g","type":"nominal","legend":null}},"layer":[
{"mark":"rule","encoding":{"y":{"field":"lo","type":"quantitative","title":"Conc., nM"},"y2":{"field":"hi"}}},
{"mark":{"type":"tick","size":22,"thickness":1.5},"encoding":{"y":{"field":"m","type":"quantitative","title":"Conc., nM"}}},
{"mark":{"type":"tick","size":11},"encoding":{"y":{"field":"lo","type":"quantitative","title":"Conc., nM"}}},
{"mark":{"type":"tick","size":11},"encoding":{"y":{"field":"hi","type":"quantitative","title":"Conc., nM"}}}]},
{"data":{"name":"br"},"transform":[{"filter":"datum.p==6"}],"layer":[
{"mark":{"type":"rule","style":"bk"},"encoding":{"x":{"datum":"Control","type":"nominal","title":null},"x2":{"datum":"PC"},"y":{"field":"t","type":"quantitative","title":"Conc., nM"}}},
{"mark":{"type":"rule","style":"bk"},"encoding":{"x":{"datum":"Control","type":"nominal","title":null},"y":{"field":"l","type":"quantitative","title":"Conc., nM"},"y2":{"field":"t"}}},
{"mark":{"type":"rule","style":"bk"},"encoding":{"x":{"datum":"PC","type":"nominal","title":null},"y":{"field":"r","type":"quantitative","title":"Conc., nM"},"y2":{"field":"t"}}},
{"mark":{"type":"text","style":"sr"},"encoding":{"x":{"datum":"Control","type":"nominal","title":null},"y":{"field":"t","type":"quantitative","title":"Conc., nM"},"text":{"field":"s"}}},
{"mark":{"type":"rule","yOffset":-13.3,"strokeOpacity":0},"encoding":{"y":{"field":"d","type":"quantitative","title":"Conc., nM"}}}]}]},
{"width":70,"height":104,"title":"SM (d18:2/20:0)","layer":[
{"data":{"name":"pts"},"transform":[{"filter":"datum.p==7"},{"window":[{"op":"row_number","as":"r"}],"groupby":["g"],"sort":[{"field":"v","order":"descending"}]},{"calculate":"datum.r%5","as":"k"}],"mark":"point","encoding":{"x":{"field":"g","type":"nominal","title":null},"xOffset":{"field":"k","type":"nominal","scale":{"domain":[4,2,1,3,0]}},"y":{"field":"v","type":"quantitative","title":null,"scale":{"domain":[0,6000],"nice":false},"axis":{"values":[0,2000,4000,6000],"tickCount":10,"format":"d","labelOverlap":false,"minExtent":40,"maxExtent":40}},"color":{"field":"g","type":"nominal","legend":null},"shape":{"field":"g","type":"nominal","scale":{"range":["circle","square"]},"legend":null}}},
{"data":{"name":"st"},"transform":[{"filter":"datum.p==7"}],"encoding":{"x":{"field":"g","type":"nominal","title":null},"color":{"field":"g","type":"nominal","legend":null}},"layer":[
{"mark":"rule","encoding":{"y":{"field":"lo","type":"quantitative","title":null},"y2":{"field":"hi"}}},
{"mark":{"type":"tick","size":22,"thickness":1.5},"encoding":{"y":{"field":"m","type":"quantitative","title":null}}},
{"mark":{"type":"tick","size":11},"encoding":{"y":{"field":"lo","type":"quantitative","title":null}}},
{"mark":{"type":"tick","size":11},"encoding":{"y":{"field":"hi","type":"quantitative","title":null}}}]},
{"data":{"name":"br"},"transform":[{"filter":"datum.p==7"}],"layer":[
{"mark":{"type":"rule","style":"bk"},"encoding":{"x":{"datum":"Control","type":"nominal","title":null},"x2":{"datum":"PC"},"y":{"field":"t","type":"quantitative","title":null}}},
{"mark":{"type":"rule","style":"bk"},"encoding":{"x":{"datum":"Control","type":"nominal","title":null},"y":{"field":"l","type":"quantitative","title":null},"y2":{"field":"t"}}},
{"mark":{"type":"rule","style":"bk"},"encoding":{"x":{"datum":"PC","type":"nominal","title":null},"y":{"field":"r","type":"quantitative","title":null},"y2":{"field":"t"}}},
{"mark":{"type":"text","style":"sr"},"encoding":{"x":{"datum":"Control","type":"nominal","title":null},"y":{"field":"t","type":"quantitative","title":null},"text":{"field":"s"}}},
{"mark":{"type":"rule","yOffset":-13.3,"strokeOpacity":0},"encoding":{"y":{"field":"d","type":"quantitative","title":null}}}]}]},
{"width":70,"height":104,"title":"SM (d18:2/20:1)","layer":[
{"data":{"name":"pts"},"transform":[{"filter":"datum.p==8"},{"window":[{"op":"row_number","as":"r"}],"groupby":["g"],"sort":[{"field":"v","order":"descending"}]},{"calculate":"datum.r%5","as":"k"}],"mark":"point","encoding":{"x":{"field":"g","type":"nominal","title":null},"xOffset":{"field":"k","type":"nominal","scale":{"domain":[4,2,1,3,0]}},"y":{"field":"v","type":"quantitative","title":null,"scale":{"domain":[0,200],"nice":false},"axis":{"values":[0,50,100,150,200],"tickCount":10,"format":"d","labelOverlap":false,"minExtent":40,"maxExtent":40}},"color":{"field":"g","type":"nominal","legend":null},"shape":{"field":"g","type":"nominal","scale":{"range":["circle","square"]},"legend":null}}},
{"data":{"name":"st"},"transform":[{"filter":"datum.p==8"}],"encoding":{"x":{"field":"g","type":"nominal","title":null},"color":{"field":"g","type":"nominal","legend":null}},"layer":[
{"mark":"rule","encoding":{"y":{"field":"lo","type":"quantitative","title":null},"y2":{"field":"hi"}}},
{"mark":{"type":"tick","size":22,"thickness":1.5},"encoding":{"y":{"field":"m","type":"quantitative","title":null}}},
{"mark":{"type":"tick","size":11},"encoding":{"y":{"field":"lo","type":"quantitative","title":null}}},
{"mark":{"type":"tick","size":11},"encoding":{"y":{"field":"hi","type":"quantitative","title":null}}}]},
{"data":{"name":"br"},"transform":[{"filter":"datum.p==8"}],"layer":[
{"mark":{"type":"rule","style":"bk"},"encoding":{"x":{"datum":"Control","type":"nominal","title":null},"x2":{"datum":"PC"},"y":{"field":"t","type":"quantitative","title":null}}},
{"mark":{"type":"rule","style":"bk"},"encoding":{"x":{"datum":"Control","type":"nominal","title":null},"y":{"field":"l","type":"quantitative","title":null},"y2":{"field":"t"}}},
{"mark":{"type":"rule","style":"bk"},"encoding":{"x":{"datum":"PC","type":"nominal","title":null},"y":{"field":"r","type":"quantitative","title":null},"y2":{"field":"t"}}},
{"mark":{"type":"text","style":"sr"},"encoding":{"x":{"datum":"Control","type":"nominal","title":null},"y":{"field":"t","type":"quantitative","title":null},"text":{"field":"s"}}},
{"mark":{"type":"rule","yOffset":-13.3,"strokeOpacity":0},"encoding":{"y":{"field":"d","type":"quantitative","title":null}}}]}]},
{"width":70,"height":104,"title":"SM (d18:2/22:1)","layer":[
{"data":{"name":"pts"},"transform":[{"filter":"datum.p==9"},{"window":[{"op":"row_number","as":"r"}],"groupby":["g"],"sort":[{"field":"v","order":"descending"}]},{"calculate":"datum.r%5","as":"k"}],"mark":"point","encoding":{"x":{"field":"g","type":"nominal","title":null},"xOffset":{"field":"k","type":"nominal","scale":{"domain":[4,2,1,3,0]}},"y":{"field":"v","type":"quantitative","title":null,"scale":{"domain":[0,1000],"nice":false},"axis":{"values":[0,200,400,600,800,1000],"tickCount":10,"format":"d","labelOverlap":false,"minExtent":38,"maxExtent":38}},"color":{"field":"g","type":"nominal","legend":null},"shape":{"field":"g","type":"nominal","scale":{"range":["circle","square"]},"legend":null}}},
{"data":{"name":"st"},"transform":[{"filter":"datum.p==9"}],"encoding":{"x":{"field":"g","type":"nominal","title":null},"color":{"field":"g","type":"nominal","legend":null}},"layer":[
{"mark":"rule","encoding":{"y":{"field":"lo","type":"quantitative","title":null},"y2":{"field":"hi"}}},
{"mark":{"type":"tick","size":22,"thickness":1.5},"encoding":{"y":{"field":"m","type":"quantitative","title":null}}},
{"mark":{"type":"tick","size":11},"encoding":{"y":{"field":"lo","type":"quantitative","title":null}}},
{"mark":{"type":"tick","size":11},"encoding":{"y":{"field":"hi","type":"quantitative","title":null}}}]},
{"data":{"name":"br"},"transform":[{"filter":"datum.p==9"}],"layer":[
{"mark":{"type":"rule","style":"bk"},"encoding":{"x":{"datum":"Control","type":"nominal","title":null},"x2":{"datum":"PC"},"y":{"field":"t","type":"quantitative","title":null}}},
{"mark":{"type":"rule","style":"bk"},"encoding":{"x":{"datum":"Control","type":"nominal","title":null},"y":{"field":"l","type":"quantitative","title":null},"y2":{"field":"t"}}},
{"mark":{"type":"rule","style":"bk"},"encoding":{"x":{"datum":"PC","type":"nominal","title":null},"y":{"field":"r","type":"quantitative","title":null},"y2":{"field":"t"}}},
{"mark":{"type":"text","style":"sr"},"encoding":{"x":{"datum":"Control","type":"nominal","title":null},"y":{"field":"t","type":"quantitative","title":null},"text":{"field":"s"}}},
{"mark":{"type":"rule","yOffset":-13.3,"strokeOpacity":0},"encoding":{"y":{"field":"d","type":"quantitative","title":null}}}]}]},
{"width":70,"height":104,"title":"SM (d18:2/23:1)","layer":[
{"data":{"name":"pts"},"transform":[{"filter":"datum.p==10"},{"window":[{"op":"row_number","as":"r"}],"groupby":["g"],"sort":[{"field":"v","order":"descending"}]},{"calculate":"datum.r%5","as":"k"}],"mark":"point","encoding":{"x":{"field":"g","type":"nominal","title":null},"xOffset":{"field":"k","type":"nominal","scale":{"domain":[4,2,1,3,0]}},"y":{"field":"v","type":"quantitative","title":null,"scale":{"domain":[0,400],"nice":false},"axis":{"values":[0,100,200,300,400],"tickCount":10,"format":"d","labelOverlap":false,"minExtent":32,"maxExtent":32}},"color":{"field":"g","type":"nominal","legend":null},"shape":{"field":"g","type":"nominal","scale":{"range":["circle","square"]},"legend":null}}},
{"data":{"name":"st"},"transform":[{"filter":"datum.p==10"}],"encoding":{"x":{"field":"g","type":"nominal","title":null},"color":{"field":"g","type":"nominal","legend":null}},"layer":[
{"mark":"rule","encoding":{"y":{"field":"lo","type":"quantitative","title":null},"y2":{"field":"hi"}}},
{"mark":{"type":"tick","size":22,"thickness":1.5},"encoding":{"y":{"field":"m","type":"quantitative","title":null}}},
{"mark":{"type":"tick","size":11},"encoding":{"y":{"field":"lo","type":"quantitative","title":null}}},
{"mark":{"type":"tick","size":11},"encoding":{"y":{"field":"hi","type":"quantitative","title":null}}}]},
{"data":{"name":"br"},"transform":[{"filter":"datum.p==10"}],"layer":[
{"mark":{"type":"rule","style":"bk"},"encoding":{"x":{"datum":"Control","type":"nominal","title":null},"x2":{"datum":"PC"},"y":{"field":"t","type":"quantitative","title":null}}},
{"mark":{"type":"rule","style":"bk"},"encoding":{"x":{"datum":"Control","type":"nominal","title":null},"y":{"field":"l","type":"quantitative","title":null},"y2":{"field":"t"}}},
{"mark":{"type":"rule","style":"bk"},"encoding":{"x":{"datum":"PC","type":"nominal","title":null},"y":{"field":"r","type":"quantitative","title":null},"y2":{"field":"t"}}},
{"mark":{"type":"text","style":"sr"},"encoding":{"x":{"datum":"Control","type":"nominal","title":null},"y":{"field":"t","type":"quantitative","title":null},"text":{"field":"s"}}},
{"mark":{"type":"rule","yOffset":-13.3,"strokeOpacity":0},"encoding":{"y":{"field":"d","type":"quantitative","title":null}}}]}]},
{"width":70,"height":104,"title":"SM (d18:2/24:2)","layer":[
{"data":{"name":"pts"},"transform":[{"filter":"datum.p==11"},{"window":[{"op":"row_number","as":"r"}],"groupby":["g"],"sort":[{"field":"v","order":"descending"}]},{"calculate":"datum.r%5","as":"k"}],"mark":"point","encoding":{"x":{"field":"g","type":"nominal","title":null},"xOffset":{"field":"k","type":"nominal","scale":{"domain":[4,2,1,3,0]}},"y":{"field":"v","type":"quantitative","title":null,"scale":{"domain":[0,2000],"nice":false},"axis":{"values":[0,500,1000,1500,2000],"tickCount":10,"format":"d","labelOverlap":false,"minExtent":37,"maxExtent":37}},"color":{"field":"g","type":"nominal","legend":null},"shape":{"field":"g","type":"nominal","scale":{"range":["circle","square"]},"legend":null}}},
{"data":{"name":"st"},"transform":[{"filter":"datum.p==11"}],"encoding":{"x":{"field":"g","type":"nominal","title":null},"color":{"field":"g","type":"nominal","legend":null}},"layer":[
{"mark":"rule","encoding":{"y":{"field":"lo","type":"quantitative","title":null},"y2":{"field":"hi"}}},
{"mark":{"type":"tick","size":22,"thickness":1.5},"encoding":{"y":{"field":"m","type":"quantitative","title":null}}},
{"mark":{"type":"tick","size":11},"encoding":{"y":{"field":"lo","type":"quantitative","title":null}}},
{"mark":{"type":"tick","size":11},"encoding":{"y":{"field":"hi","type":"quantitative","title":null}}}]},
{"data":{"name":"br"},"transform":[{"filter":"datum.p==11"}],"layer":[
{"mark":{"type":"rule","style":"bk"},"encoding":{"x":{"datum":"Control","type":"nominal","title":null},"x2":{"datum":"PC"},"y":{"field":"t","type":"quantitative","title":null}}},
{"mark":{"type":"rule","style":"bk"},"encoding":{"x":{"datum":"Control","type":"nominal","title":null},"y":{"field":"l","type":"quantitative","title":null},"y2":{"field":"t"}}},
{"mark":{"type":"rule","style":"bk"},"encoding":{"x":{"datum":"PC","type":"nominal","title":null},"y":{"field":"r","type":"quantitative","title":null},"y2":{"field":"t"}}},
{"mark":{"type":"text","style":"sr"},"encoding":{"x":{"datum":"Control","type":"nominal","title":null},"y":{"field":"t","type":"quantitative","title":null},"text":{"field":"s"}}},
{"mark":{"type":"rule","yOffset":-13.3,"strokeOpacity":0},"encoding":{"y":{"field":"d","type":"quantitative","title":null}}}]}]}
]}
]},
{"title":{"text":"B","orient":"left","anchor":"end","frame":"bounds","angle":0,"align":"left","baseline":"top","offset":3,"dy":-3.3,"fontSize":12,"color":"#000"},
"spacing":11.3,
"vconcat":[
{"spacing":5,"hconcat":[
{"width":70,"height":104,"title":"Cer (d18:1/16:0)","layer":[
{"data":{"name":"pts"},"transform":[{"filter":"datum.p==12"},{"window":[{"op":"row_number","as":"r"}],"groupby":["g"],"sort":[{"field":"v","order":"descending"}]},{"calculate":"datum.r%5","as":"k"}],"mark":"point","encoding":{"x":{"field":"g","type":"nominal","title":null},"xOffset":{"field":"k","type":"nominal","scale":{"domain":[4,2,1,3,0]}},"y":{"field":"v","type":"quantitative","title":"Conc., nM","scale":{"domain":[0,300],"nice":false},"axis":{"values":[0,100,200,300],"tickCount":10,"format":"d","labelOverlap":false,"titleX":-27,"minExtent":25,"maxExtent":25}},"color":{"field":"g","type":"nominal","legend":null},"shape":{"field":"g","type":"nominal","scale":{"range":["circle","square"]},"legend":null}}},
{"data":{"name":"st"},"transform":[{"filter":"datum.p==12"}],"encoding":{"x":{"field":"g","type":"nominal","title":null},"color":{"field":"g","type":"nominal","legend":null}},"layer":[
{"mark":"rule","encoding":{"y":{"field":"lo","type":"quantitative","title":"Conc., nM"},"y2":{"field":"hi"}}},
{"mark":{"type":"tick","size":22,"thickness":1.5},"encoding":{"y":{"field":"m","type":"quantitative","title":"Conc., nM"}}},
{"mark":{"type":"tick","size":11},"encoding":{"y":{"field":"lo","type":"quantitative","title":"Conc., nM"}}},
{"mark":{"type":"tick","size":11},"encoding":{"y":{"field":"hi","type":"quantitative","title":"Conc., nM"}}}]},
{"data":{"name":"br"},"transform":[{"filter":"datum.p==12"}],"layer":[
{"mark":{"type":"rule","style":"bk"},"encoding":{"x":{"datum":"Control","type":"nominal","title":null},"x2":{"datum":"PC"},"y":{"field":"t","type":"quantitative","title":"Conc., nM"}}},
{"mark":{"type":"rule","style":"bk"},"encoding":{"x":{"datum":"Control","type":"nominal","title":null},"y":{"field":"l","type":"quantitative","title":"Conc., nM"},"y2":{"field":"t"}}},
{"mark":{"type":"rule","style":"bk"},"encoding":{"x":{"datum":"PC","type":"nominal","title":null},"y":{"field":"r","type":"quantitative","title":"Conc., nM"},"y2":{"field":"t"}}},
{"mark":{"type":"text","style":"sr"},"encoding":{"x":{"datum":"Control","type":"nominal","title":null},"y":{"field":"t","type":"quantitative","title":"Conc., nM"},"text":{"field":"s"}}},
{"mark":{"type":"rule","yOffset":-13.3,"strokeOpacity":0},"encoding":{"y":{"field":"d","type":"quantitative","title":"Conc., nM"}}}]}]},
{"width":70,"height":104,"title":"Cer (d18:1/18:0)","layer":[
{"data":{"name":"pts"},"transform":[{"filter":"datum.p==13"},{"window":[{"op":"row_number","as":"r"}],"groupby":["g"],"sort":[{"field":"v","order":"descending"}]},{"calculate":"datum.r%5","as":"k"}],"mark":"point","encoding":{"x":{"field":"g","type":"nominal","title":null},"xOffset":{"field":"k","type":"nominal","scale":{"domain":[4,2,1,3,0]}},"y":{"field":"v","type":"quantitative","title":null,"scale":{"domain":[0,150],"nice":false},"axis":{"values":[0,50,100,150],"tickCount":10,"format":"d","labelOverlap":false,"minExtent":37,"maxExtent":37}},"color":{"field":"g","type":"nominal","legend":null},"shape":{"field":"g","type":"nominal","scale":{"range":["circle","square"]},"legend":null}}},
{"data":{"name":"st"},"transform":[{"filter":"datum.p==13"}],"encoding":{"x":{"field":"g","type":"nominal","title":null},"color":{"field":"g","type":"nominal","legend":null}},"layer":[
{"mark":"rule","encoding":{"y":{"field":"lo","type":"quantitative","title":null},"y2":{"field":"hi"}}},
{"mark":{"type":"tick","size":22,"thickness":1.5},"encoding":{"y":{"field":"m","type":"quantitative","title":null}}},
{"mark":{"type":"tick","size":11},"encoding":{"y":{"field":"lo","type":"quantitative","title":null}}},
{"mark":{"type":"tick","size":11},"encoding":{"y":{"field":"hi","type":"quantitative","title":null}}}]},
{"data":{"name":"br"},"transform":[{"filter":"datum.p==13"}],"layer":[
{"mark":{"type":"rule","style":"bk"},"encoding":{"x":{"datum":"Control","type":"nominal","title":null},"x2":{"datum":"PC"},"y":{"field":"t","type":"quantitative","title":null}}},
{"mark":{"type":"rule","style":"bk"},"encoding":{"x":{"datum":"Control","type":"nominal","title":null},"y":{"field":"l","type":"quantitative","title":null},"y2":{"field":"t"}}},
{"mark":{"type":"rule","style":"bk"},"encoding":{"x":{"datum":"PC","type":"nominal","title":null},"y":{"field":"r","type":"quantitative","title":null},"y2":{"field":"t"}}},
{"mark":{"type":"text","style":"sr"},"encoding":{"x":{"datum":"Control","type":"nominal","title":null},"y":{"field":"t","type":"quantitative","title":null},"text":{"field":"s"}}},
{"mark":{"type":"rule","yOffset":-13.3,"strokeOpacity":0},"encoding":{"y":{"field":"d","type":"quantitative","title":null}}}]}]},
{"width":70,"height":104,"title":"Cer (d18:1/20:0)","layer":[
{"data":{"name":"pts"},"transform":[{"filter":"datum.p==14"},{"window":[{"op":"row_number","as":"r"}],"groupby":["g"],"sort":[{"field":"v","order":"descending"}]},{"calculate":"datum.r%5","as":"k"}],"mark":"point","encoding":{"x":{"field":"g","type":"nominal","title":null},"xOffset":{"field":"k","type":"nominal","scale":{"domain":[4,2,1,3,0]}},"y":{"field":"v","type":"quantitative","title":null,"scale":{"domain":[0,150],"nice":false},"axis":{"values":[0,50,100,150],"tickCount":10,"format":"d","labelOverlap":false,"minExtent":42,"maxExtent":42}},"color":{"field":"g","type":"nominal","legend":null},"shape":{"field":"g","type":"nominal","scale":{"range":["circle","square"]},"legend":null}}},
{"data":{"name":"st"},"transform":[{"filter":"datum.p==14"}],"encoding":{"x":{"field":"g","type":"nominal","title":null},"color":{"field":"g","type":"nominal","legend":null}},"layer":[
{"mark":"rule","encoding":{"y":{"field":"lo","type":"quantitative","title":null},"y2":{"field":"hi"}}},
{"mark":{"type":"tick","size":22,"thickness":1.5},"encoding":{"y":{"field":"m","type":"quantitative","title":null}}},
{"mark":{"type":"tick","size":11},"encoding":{"y":{"field":"lo","type":"quantitative","title":null}}},
{"mark":{"type":"tick","size":11},"encoding":{"y":{"field":"hi","type":"quantitative","title":null}}}]},
{"data":{"name":"br"},"transform":[{"filter":"datum.p==14"}],"layer":[
{"mark":{"type":"rule","style":"bk"},"encoding":{"x":{"datum":"Control","type":"nominal","title":null},"x2":{"datum":"PC"},"y":{"field":"t","type":"quantitative","title":null}}},
{"mark":{"type":"rule","style":"bk"},"encoding":{"x":{"datum":"Control","type":"nominal","title":null},"y":{"field":"l","type":"quantitative","title":null},"y2":{"field":"t"}}},
{"mark":{"type":"rule","style":"bk"},"encoding":{"x":{"datum":"PC","type":"nominal","title":null},"y":{"field":"r","type":"quantitative","title":null},"y2":{"field":"t"}}},
{"mark":{"type":"text","style":"sr"},"encoding":{"x":{"datum":"Control","type":"nominal","title":null},"y":{"field":"t","type":"quantitative","title":null},"text":{"field":"s"}}},
{"mark":{"type":"rule","yOffset":-13.3,"strokeOpacity":0},"encoding":{"y":{"field":"d","type":"quantitative","title":null}}}]}]},
{"width":70,"height":104,"title":"Cer (d18:1/22:0)","layer":[
{"data":{"name":"pts"},"transform":[{"filter":"datum.p==15"},{"window":[{"op":"row_number","as":"r"}],"groupby":["g"],"sort":[{"field":"v","order":"descending"}]},{"calculate":"datum.r%5","as":"k"}],"mark":"point","encoding":{"x":{"field":"g","type":"nominal","title":null},"xOffset":{"field":"k","type":"nominal","scale":{"domain":[4,2,1,3,0]}},"y":{"field":"v","type":"quantitative","title":null,"scale":{"domain":[0,2000],"nice":false},"axis":{"values":[0,500,1000,1500,2000],"tickCount":10,"format":"d","labelOverlap":false,"minExtent":38,"maxExtent":38}},"color":{"field":"g","type":"nominal","legend":null},"shape":{"field":"g","type":"nominal","scale":{"range":["circle","square"]},"legend":null}}},
{"data":{"name":"st"},"transform":[{"filter":"datum.p==15"}],"encoding":{"x":{"field":"g","type":"nominal","title":null},"color":{"field":"g","type":"nominal","legend":null}},"layer":[
{"mark":"rule","encoding":{"y":{"field":"lo","type":"quantitative","title":null},"y2":{"field":"hi"}}},
{"mark":{"type":"tick","size":22,"thickness":1.5},"encoding":{"y":{"field":"m","type":"quantitative","title":null}}},
{"mark":{"type":"tick","size":11},"encoding":{"y":{"field":"lo","type":"quantitative","title":null}}},
{"mark":{"type":"tick","size":11},"encoding":{"y":{"field":"hi","type":"quantitative","title":null}}}]},
{"data":{"name":"br"},"transform":[{"filter":"datum.p==15"}],"layer":[
{"mark":{"type":"rule","style":"bk"},"encoding":{"x":{"datum":"Control","type":"nominal","title":null},"x2":{"datum":"PC"},"y":{"field":"t","type":"quantitative","title":null}}},
{"mark":{"type":"rule","style":"bk"},"encoding":{"x":{"datum":"Control","type":"nominal","title":null},"y":{"field":"l","type":"quantitative","title":null},"y2":{"field":"t"}}},
{"mark":{"type":"rule","style":"bk"},"encoding":{"x":{"datum":"PC","type":"nominal","title":null},"y":{"field":"r","type":"quantitative","title":null},"y2":{"field":"t"}}},
{"mark":{"type":"text","style":"sr"},"encoding":{"x":{"datum":"Control","type":"nominal","title":null},"y":{"field":"t","type":"quantitative","title":null},"text":{"field":"s"}}},
{"mark":{"type":"rule","yOffset":-13.3,"strokeOpacity":0},"encoding":{"y":{"field":"d","type":"quantitative","title":null}}}]}]},
{"width":70,"height":104,"title":"Cer (d18:1/23:0)","layer":[
{"data":{"name":"pts"},"transform":[{"filter":"datum.p==16"},{"window":[{"op":"row_number","as":"r"}],"groupby":["g"],"sort":[{"field":"v","order":"descending"}]},{"calculate":"datum.r%5","as":"k"}],"mark":"point","encoding":{"x":{"field":"g","type":"nominal","title":null},"xOffset":{"field":"k","type":"nominal","scale":{"domain":[4,2,1,3,0]}},"y":{"field":"v","type":"quantitative","title":null,"scale":{"domain":[0,800],"nice":false},"axis":{"values":[0,200,400,600,800],"tickCount":10,"format":"d","labelOverlap":false,"minExtent":33,"maxExtent":33}},"color":{"field":"g","type":"nominal","legend":null},"shape":{"field":"g","type":"nominal","scale":{"range":["circle","square"]},"legend":null}}},
{"data":{"name":"st"},"transform":[{"filter":"datum.p==16"}],"encoding":{"x":{"field":"g","type":"nominal","title":null},"color":{"field":"g","type":"nominal","legend":null}},"layer":[
{"mark":"rule","encoding":{"y":{"field":"lo","type":"quantitative","title":null},"y2":{"field":"hi"}}},
{"mark":{"type":"tick","size":22,"thickness":1.5},"encoding":{"y":{"field":"m","type":"quantitative","title":null}}},
{"mark":{"type":"tick","size":11},"encoding":{"y":{"field":"lo","type":"quantitative","title":null}}},
{"mark":{"type":"tick","size":11},"encoding":{"y":{"field":"hi","type":"quantitative","title":null}}}]},
{"data":{"name":"br"},"transform":[{"filter":"datum.p==16"}],"layer":[
{"mark":{"type":"rule","style":"bk"},"encoding":{"x":{"datum":"Control","type":"nominal","title":null},"x2":{"datum":"PC"},"y":{"field":"t","type":"quantitative","title":null}}},
{"mark":{"type":"rule","style":"bk"},"encoding":{"x":{"datum":"Control","type":"nominal","title":null},"y":{"field":"l","type":"quantitative","title":null},"y2":{"field":"t"}}},
{"mark":{"type":"rule","style":"bk"},"encoding":{"x":{"datum":"PC","type":"nominal","title":null},"y":{"field":"r","type":"quantitative","title":null},"y2":{"field":"t"}}},
{"mark":{"type":"text","style":"sr"},"encoding":{"x":{"datum":"Control","type":"nominal","title":null},"y":{"field":"t","type":"quantitative","title":null},"text":{"field":"s"}}},
{"mark":{"type":"rule","yOffset":-13.3,"strokeOpacity":0},"encoding":{"y":{"field":"d","type":"quantitative","title":null}}}]}]}
]},
{"spacing":5,"hconcat":[
{"width":70,"height":104,"title":"Cer (d18:1/24:1)","layer":[
{"data":{"name":"pts"},"transform":[{"filter":"datum.p==17"},{"window":[{"op":"row_number","as":"r"}],"groupby":["g"],"sort":[{"field":"v","order":"descending"}]},{"calculate":"datum.r%5","as":"k"}],"mark":"point","encoding":{"x":{"field":"g","type":"nominal","title":null},"xOffset":{"field":"k","type":"nominal","scale":{"domain":[4,2,1,3,0]}},"y":{"field":"v","type":"quantitative","title":"Conc., nM","scale":{"domain":[0,2500],"nice":false},"axis":{"values":[0,500,1000,1500,2000,2500],"tickCount":10,"format":"d","labelOverlap":false,"titleX":-27,"minExtent":25,"maxExtent":25}},"color":{"field":"g","type":"nominal","legend":null},"shape":{"field":"g","type":"nominal","scale":{"range":["circle","square"]},"legend":null}}},
{"data":{"name":"st"},"transform":[{"filter":"datum.p==17"}],"encoding":{"x":{"field":"g","type":"nominal","title":null},"color":{"field":"g","type":"nominal","legend":null}},"layer":[
{"mark":"rule","encoding":{"y":{"field":"lo","type":"quantitative","title":"Conc., nM"},"y2":{"field":"hi"}}},
{"mark":{"type":"tick","size":22,"thickness":1.5},"encoding":{"y":{"field":"m","type":"quantitative","title":"Conc., nM"}}},
{"mark":{"type":"tick","size":11},"encoding":{"y":{"field":"lo","type":"quantitative","title":"Conc., nM"}}},
{"mark":{"type":"tick","size":11},"encoding":{"y":{"field":"hi","type":"quantitative","title":"Conc., nM"}}}]},
{"data":{"name":"br"},"transform":[{"filter":"datum.p==17"}],"layer":[
{"mark":{"type":"rule","style":"bk"},"encoding":{"x":{"datum":"Control","type":"nominal","title":null},"x2":{"datum":"PC"},"y":{"field":"t","type":"quantitative","title":"Conc., nM"}}},
{"mark":{"type":"rule","style":"bk"},"encoding":{"x":{"datum":"Control","type":"nominal","title":null},"y":{"field":"l","type":"quantitative","title":"Conc., nM"},"y2":{"field":"t"}}},
{"mark":{"type":"rule","style":"bk"},"encoding":{"x":{"datum":"PC","type":"nominal","title":null},"y":{"field":"r","type":"quantitative","title":"Conc., nM"},"y2":{"field":"t"}}},
{"mark":{"type":"text","style":"sr"},"encoding":{"x":{"datum":"Control","type":"nominal","title":null},"y":{"field":"t","type":"quantitative","title":"Conc., nM"},"text":{"field":"s"}}},
{"mark":{"type":"rule","yOffset":-13.3,"strokeOpacity":0},"encoding":{"y":{"field":"d","type":"quantitative","title":"Conc., nM"}}}]}]},
{"width":70,"height":104,"title":"Cer (d18:1/25:0)","layer":[
{"data":{"name":"pts"},"transform":[{"filter":"datum.p==18"},{"window":[{"op":"row_number","as":"r"}],"groupby":["g"],"sort":[{"field":"v","order":"descending"}]},{"calculate":"datum.r%5","as":"k"}],"mark":"point","encoding":{"x":{"field":"g","type":"nominal","title":null},"xOffset":{"field":"k","type":"nominal","scale":{"domain":[4,2,1,3,0]}},"y":{"field":"v","type":"quantitative","title":null,"scale":{"domain":[0,150],"nice":false},"axis":{"values":[0,50,100,150],"tickCount":10,"format":"d","labelOverlap":false,"minExtent":40,"maxExtent":40}},"color":{"field":"g","type":"nominal","legend":null},"shape":{"field":"g","type":"nominal","scale":{"range":["circle","square"]},"legend":null}}},
{"data":{"name":"st"},"transform":[{"filter":"datum.p==18"}],"encoding":{"x":{"field":"g","type":"nominal","title":null},"color":{"field":"g","type":"nominal","legend":null}},"layer":[
{"mark":"rule","encoding":{"y":{"field":"lo","type":"quantitative","title":null},"y2":{"field":"hi"}}},
{"mark":{"type":"tick","size":22,"thickness":1.5},"encoding":{"y":{"field":"m","type":"quantitative","title":null}}},
{"mark":{"type":"tick","size":11},"encoding":{"y":{"field":"lo","type":"quantitative","title":null}}},
{"mark":{"type":"tick","size":11},"encoding":{"y":{"field":"hi","type":"quantitative","title":null}}}]},
{"data":{"name":"br"},"transform":[{"filter":"datum.p==18"}],"layer":[
{"mark":{"type":"rule","style":"bk"},"encoding":{"x":{"datum":"Control","type":"nominal","title":null},"x2":{"datum":"PC"},"y":{"field":"t","type":"quantitative","title":null}}},
{"mark":{"type":"rule","style":"bk"},"encoding":{"x":{"datum":"Control","type":"nominal","title":null},"y":{"field":"l","type":"quantitative","title":null},"y2":{"field":"t"}}},
{"mark":{"type":"rule","style":"bk"},"encoding":{"x":{"datum":"PC","type":"nominal","title":null},"y":{"field":"r","type":"quantitative","title":null},"y2":{"field":"t"}}},
{"mark":{"type":"text","style":"sr"},"encoding":{"x":{"datum":"Control","type":"nominal","title":null},"y":{"field":"t","type":"quantitative","title":null},"text":{"field":"s"}}},
{"mark":{"type":"rule","yOffset":-13.3,"strokeOpacity":0},"encoding":{"y":{"field":"d","type":"quantitative","title":null}}}]}]},
{"width":70,"height":104,"title":"Cer (d18:2/22:0)","layer":[
{"data":{"name":"pts"},"transform":[{"filter":"datum.p==19"},{"window":[{"op":"row_number","as":"r"}],"groupby":["g"],"sort":[{"field":"v","order":"descending"}]},{"calculate":"datum.r%5","as":"k"}],"mark":"point","encoding":{"x":{"field":"g","type":"nominal","title":null},"xOffset":{"field":"k","type":"nominal","scale":{"domain":[4,2,1,3,0]}},"y":{"field":"v","type":"quantitative","title":null,"scale":{"domain":[0,250],"nice":false},"axis":{"values":[0,50,100,150,200,250],"tickCount":10,"format":"d","labelOverlap":false,"minExtent":40,"maxExtent":40}},"color":{"field":"g","type":"nominal","legend":null},"shape":{"field":"g","type":"nominal","scale":{"range":["circle","square"]},"legend":null}}},
{"data":{"name":"st"},"transform":[{"filter":"datum.p==19"}],"encoding":{"x":{"field":"g","type":"nominal","title":null},"color":{"field":"g","type":"nominal","legend":null}},"layer":[
{"mark":"rule","encoding":{"y":{"field":"lo","type":"quantitative","title":null},"y2":{"field":"hi"}}},
{"mark":{"type":"tick","size":22,"thickness":1.5},"encoding":{"y":{"field":"m","type":"quantitative","title":null}}},
{"mark":{"type":"tick","size":11},"encoding":{"y":{"field":"lo","type":"quantitative","title":null}}},
{"mark":{"type":"tick","size":11},"encoding":{"y":{"field":"hi","type":"quantitative","title":null}}}]},
{"data":{"name":"br"},"transform":[{"filter":"datum.p==19"}],"layer":[
{"mark":{"type":"rule","style":"bk"},"encoding":{"x":{"datum":"Control","type":"nominal","title":null},"x2":{"datum":"PC"},"y":{"field":"t","type":"quantitative","title":null}}},
{"mark":{"type":"rule","style":"bk"},"encoding":{"x":{"datum":"Control","type":"nominal","title":null},"y":{"field":"l","type":"quantitative","title":null},"y2":{"field":"t"}}},
{"mark":{"type":"rule","style":"bk"},"encoding":{"x":{"datum":"PC","type":"nominal","title":null},"y":{"field":"r","type":"quantitative","title":null},"y2":{"field":"t"}}},
{"mark":{"type":"text","style":"sr"},"encoding":{"x":{"datum":"Control","type":"nominal","title":null},"y":{"field":"t","type":"quantitative","title":null},"text":{"field":"s"}}},
{"mark":{"type":"rule","yOffset":-13.3,"strokeOpacity":0},"encoding":{"y":{"field":"d","type":"quantitative","title":null}}}]}]},
{"width":70,"height":104,"title":"Cer (d18:2/23:0)","layer":[
{"data":{"name":"pts"},"transform":[{"filter":"datum.p==20"},{"window":[{"op":"row_number","as":"r"}],"groupby":["g"],"sort":[{"field":"v","order":"descending"}]},{"calculate":"datum.r%5","as":"k"}],"mark":"point","encoding":{"x":{"field":"g","type":"nominal","title":null},"xOffset":{"field":"k","type":"nominal","scale":{"domain":[4,2,1,3,0]}},"y":{"field":"v","type":"quantitative","title":null,"scale":{"domain":[0,200],"nice":false},"axis":{"values":[0,50,100,150,200],"tickCount":10,"format":"d","labelOverlap":false,"minExtent":40,"maxExtent":40}},"color":{"field":"g","type":"nominal","legend":null},"shape":{"field":"g","type":"nominal","scale":{"range":["circle","square"]},"legend":null}}},
{"data":{"name":"st"},"transform":[{"filter":"datum.p==20"}],"encoding":{"x":{"field":"g","type":"nominal","title":null},"color":{"field":"g","type":"nominal","legend":null}},"layer":[
{"mark":"rule","encoding":{"y":{"field":"lo","type":"quantitative","title":null},"y2":{"field":"hi"}}},
{"mark":{"type":"tick","size":22,"thickness":1.5},"encoding":{"y":{"field":"m","type":"quantitative","title":null}}},
{"mark":{"type":"tick","size":11},"encoding":{"y":{"field":"lo","type":"quantitative","title":null}}},
{"mark":{"type":"tick","size":11},"encoding":{"y":{"field":"hi","type":"quantitative","title":null}}}]},
{"data":{"name":"br"},"transform":[{"filter":"datum.p==20"}],"layer":[
{"mark":{"type":"rule","style":"bk"},"encoding":{"x":{"datum":"Control","type":"nominal","title":null},"x2":{"datum":"PC"},"y":{"field":"t","type":"quantitative","title":null}}},
{"mark":{"type":"rule","style":"bk"},"encoding":{"x":{"datum":"Control","type":"nominal","title":null},"y":{"field":"l","type":"quantitative","title":null},"y2":{"field":"t"}}},
{"mark":{"type":"rule","style":"bk"},"encoding":{"x":{"datum":"PC","type":"nominal","title":null},"y":{"field":"r","type":"quantitative","title":null},"y2":{"field":"t"}}},
{"mark":{"type":"text","style":"sr"},"encoding":{"x":{"datum":"Control","type":"nominal","title":null},"y":{"field":"t","type":"quantitative","title":null},"text":{"field":"s"}}},
{"mark":{"type":"rule","yOffset":-13.3,"strokeOpacity":0},"encoding":{"y":{"field":"d","type":"quantitative","title":null}}}]}]},
{"width":70,"height":104,"title":"Cer (d18:2/24:1)","layer":[
{"data":{"name":"pts"},"transform":[{"filter":"datum.p==21"},{"window":[{"op":"row_number","as":"r"}],"groupby":["g"],"sort":[{"field":"v","order":"descending"}]},{"calculate":"datum.r%5","as":"k"}],"mark":"point","encoding":{"x":{"field":"g","type":"nominal","title":null},"xOffset":{"field":"k","type":"nominal","scale":{"domain":[4,2,1,3,0]}},"y":{"field":"v","type":"quantitative","title":null,"scale":{"domain":[0,300],"nice":false},"axis":{"values":[0,100,200,300],"tickCount":10,"format":"d","labelOverlap":false,"minExtent":31,"maxExtent":31}},"color":{"field":"g","type":"nominal","legend":null},"shape":{"field":"g","type":"nominal","scale":{"range":["circle","square"]},"legend":null}}},
{"data":{"name":"st"},"transform":[{"filter":"datum.p==21"}],"encoding":{"x":{"field":"g","type":"nominal","title":null},"color":{"field":"g","type":"nominal","legend":null}},"layer":[
{"mark":"rule","encoding":{"y":{"field":"lo","type":"quantitative","title":null},"y2":{"field":"hi"}}},
{"mark":{"type":"tick","size":22,"thickness":1.5},"encoding":{"y":{"field":"m","type":"quantitative","title":null}}},
{"mark":{"type":"tick","size":11},"encoding":{"y":{"field":"lo","type":"quantitative","title":null}}},
{"mark":{"type":"tick","size":11},"encoding":{"y":{"field":"hi","type":"quantitative","title":null}}}]},
{"data":{"name":"br"},"transform":[{"filter":"datum.p==21"}],"layer":[
{"mark":{"type":"rule","style":"bk"},"encoding":{"x":{"datum":"Control","type":"nominal","title":null},"x2":{"datum":"PC"},"y":{"field":"t","type":"quantitative","title":null}}},
{"mark":{"type":"rule","style":"bk"},"encoding":{"x":{"datum":"Control","type":"nominal","title":null},"y":{"field":"l","type":"quantitative","title":null},"y2":{"field":"t"}}},
{"mark":{"type":"rule","style":"bk"},"encoding":{"x":{"datum":"PC","type":"nominal","title":null},"y":{"field":"r","type":"quantitative","title":null},"y2":{"field":"t"}}},
{"mark":{"type":"text","style":"sr"},"encoding":{"x":{"datum":"Control","type":"nominal","title":null},"y":{"field":"t","type":"quantitative","title":null},"text":{"field":"s"}}},
{"mark":{"type":"rule","yOffset":-13.3,"strokeOpacity":0},"encoding":{"y":{"field":"d","type":"quantitative","title":null}}}]}]}
]}
]}
]
}
